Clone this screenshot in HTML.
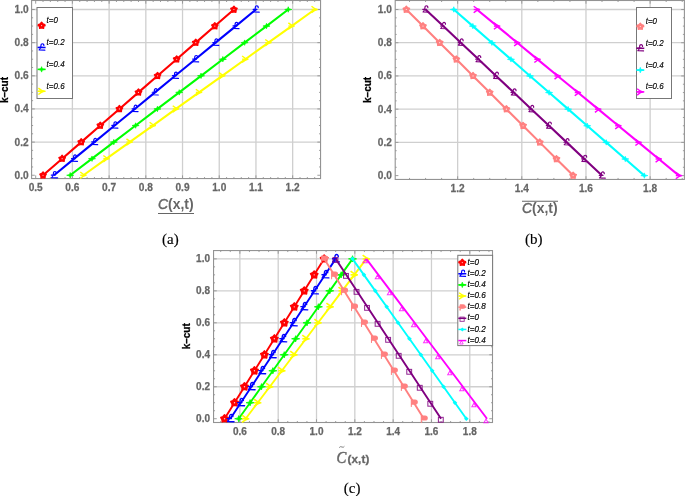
<!DOCTYPE html>
<html><head><meta charset="utf-8"><style>
html,body{margin:0;padding:0;background:#fff;}
svg{display:block;}
</style></head><body>
<svg width="685" height="496" viewBox="0 0 685 496">
<rect width="685" height="496" fill="#fff"/>
<line x1="72.40" y1="0.5" x2="72.40" y2="178.55" stroke="#cfcfcf" stroke-width="1.3"/>
<line x1="109.11" y1="0.5" x2="109.11" y2="178.55" stroke="#cfcfcf" stroke-width="1.3"/>
<line x1="145.82" y1="0.5" x2="145.82" y2="178.55" stroke="#cfcfcf" stroke-width="1.3"/>
<line x1="182.53" y1="0.5" x2="182.53" y2="178.55" stroke="#cfcfcf" stroke-width="1.3"/>
<line x1="219.24" y1="0.5" x2="219.24" y2="178.55" stroke="#cfcfcf" stroke-width="1.3"/>
<line x1="255.95" y1="0.5" x2="255.95" y2="178.55" stroke="#cfcfcf" stroke-width="1.3"/>
<line x1="292.66" y1="0.5" x2="292.66" y2="178.55" stroke="#cfcfcf" stroke-width="1.3"/>
<line x1="31.6" y1="142.10" x2="320.55" y2="142.10" stroke="#cfcfcf" stroke-width="1.3"/>
<line x1="31.6" y1="108.95" x2="320.55" y2="108.95" stroke="#cfcfcf" stroke-width="1.3"/>
<line x1="31.6" y1="75.80" x2="320.55" y2="75.80" stroke="#cfcfcf" stroke-width="1.3"/>
<line x1="31.6" y1="42.65" x2="320.55" y2="42.65" stroke="#cfcfcf" stroke-width="1.3"/>
<line x1="31.6" y1="9.50" x2="320.55" y2="9.50" stroke="#cfcfcf" stroke-width="1.3"/>
<rect x="31.6" y="0.5" width="288.95" height="178.05" fill="none" stroke="#939393" stroke-width="1.1"/>
<line x1="35.69" y1="178.55" x2="35.69" y2="175.35000000000002" stroke="#939393" stroke-width="0.9"/>
<line x1="35.69" y1="0.5" x2="35.69" y2="3.7" stroke="#939393" stroke-width="0.9"/>
<line x1="72.40" y1="178.55" x2="72.40" y2="175.35000000000002" stroke="#939393" stroke-width="0.9"/>
<line x1="72.40" y1="0.5" x2="72.40" y2="3.7" stroke="#939393" stroke-width="0.9"/>
<line x1="109.11" y1="178.55" x2="109.11" y2="175.35000000000002" stroke="#939393" stroke-width="0.9"/>
<line x1="109.11" y1="0.5" x2="109.11" y2="3.7" stroke="#939393" stroke-width="0.9"/>
<line x1="145.82" y1="178.55" x2="145.82" y2="175.35000000000002" stroke="#939393" stroke-width="0.9"/>
<line x1="145.82" y1="0.5" x2="145.82" y2="3.7" stroke="#939393" stroke-width="0.9"/>
<line x1="182.53" y1="178.55" x2="182.53" y2="175.35000000000002" stroke="#939393" stroke-width="0.9"/>
<line x1="182.53" y1="0.5" x2="182.53" y2="3.7" stroke="#939393" stroke-width="0.9"/>
<line x1="219.24" y1="178.55" x2="219.24" y2="175.35000000000002" stroke="#939393" stroke-width="0.9"/>
<line x1="219.24" y1="0.5" x2="219.24" y2="3.7" stroke="#939393" stroke-width="0.9"/>
<line x1="255.95" y1="178.55" x2="255.95" y2="175.35000000000002" stroke="#939393" stroke-width="0.9"/>
<line x1="255.95" y1="0.5" x2="255.95" y2="3.7" stroke="#939393" stroke-width="0.9"/>
<line x1="292.66" y1="178.55" x2="292.66" y2="175.35000000000002" stroke="#939393" stroke-width="0.9"/>
<line x1="292.66" y1="0.5" x2="292.66" y2="3.7" stroke="#939393" stroke-width="0.9"/>
<line x1="43.03" y1="178.55" x2="43.03" y2="177.05" stroke="#939393" stroke-width="0.9"/>
<line x1="43.03" y1="0.5" x2="43.03" y2="2.0" stroke="#939393" stroke-width="0.9"/>
<line x1="50.37" y1="178.55" x2="50.37" y2="177.05" stroke="#939393" stroke-width="0.9"/>
<line x1="50.37" y1="0.5" x2="50.37" y2="2.0" stroke="#939393" stroke-width="0.9"/>
<line x1="57.72" y1="178.55" x2="57.72" y2="177.05" stroke="#939393" stroke-width="0.9"/>
<line x1="57.72" y1="0.5" x2="57.72" y2="2.0" stroke="#939393" stroke-width="0.9"/>
<line x1="65.06" y1="178.55" x2="65.06" y2="177.05" stroke="#939393" stroke-width="0.9"/>
<line x1="65.06" y1="0.5" x2="65.06" y2="2.0" stroke="#939393" stroke-width="0.9"/>
<line x1="79.74" y1="178.55" x2="79.74" y2="177.05" stroke="#939393" stroke-width="0.9"/>
<line x1="79.74" y1="0.5" x2="79.74" y2="2.0" stroke="#939393" stroke-width="0.9"/>
<line x1="87.08" y1="178.55" x2="87.08" y2="177.05" stroke="#939393" stroke-width="0.9"/>
<line x1="87.08" y1="0.5" x2="87.08" y2="2.0" stroke="#939393" stroke-width="0.9"/>
<line x1="94.43" y1="178.55" x2="94.43" y2="177.05" stroke="#939393" stroke-width="0.9"/>
<line x1="94.43" y1="0.5" x2="94.43" y2="2.0" stroke="#939393" stroke-width="0.9"/>
<line x1="101.77" y1="178.55" x2="101.77" y2="177.05" stroke="#939393" stroke-width="0.9"/>
<line x1="101.77" y1="0.5" x2="101.77" y2="2.0" stroke="#939393" stroke-width="0.9"/>
<line x1="116.45" y1="178.55" x2="116.45" y2="177.05" stroke="#939393" stroke-width="0.9"/>
<line x1="116.45" y1="0.5" x2="116.45" y2="2.0" stroke="#939393" stroke-width="0.9"/>
<line x1="123.79" y1="178.55" x2="123.79" y2="177.05" stroke="#939393" stroke-width="0.9"/>
<line x1="123.79" y1="0.5" x2="123.79" y2="2.0" stroke="#939393" stroke-width="0.9"/>
<line x1="131.14" y1="178.55" x2="131.14" y2="177.05" stroke="#939393" stroke-width="0.9"/>
<line x1="131.14" y1="0.5" x2="131.14" y2="2.0" stroke="#939393" stroke-width="0.9"/>
<line x1="138.48" y1="178.55" x2="138.48" y2="177.05" stroke="#939393" stroke-width="0.9"/>
<line x1="138.48" y1="0.5" x2="138.48" y2="2.0" stroke="#939393" stroke-width="0.9"/>
<line x1="153.16" y1="178.55" x2="153.16" y2="177.05" stroke="#939393" stroke-width="0.9"/>
<line x1="153.16" y1="0.5" x2="153.16" y2="2.0" stroke="#939393" stroke-width="0.9"/>
<line x1="160.50" y1="178.55" x2="160.50" y2="177.05" stroke="#939393" stroke-width="0.9"/>
<line x1="160.50" y1="0.5" x2="160.50" y2="2.0" stroke="#939393" stroke-width="0.9"/>
<line x1="167.85" y1="178.55" x2="167.85" y2="177.05" stroke="#939393" stroke-width="0.9"/>
<line x1="167.85" y1="0.5" x2="167.85" y2="2.0" stroke="#939393" stroke-width="0.9"/>
<line x1="175.19" y1="178.55" x2="175.19" y2="177.05" stroke="#939393" stroke-width="0.9"/>
<line x1="175.19" y1="0.5" x2="175.19" y2="2.0" stroke="#939393" stroke-width="0.9"/>
<line x1="189.87" y1="178.55" x2="189.87" y2="177.05" stroke="#939393" stroke-width="0.9"/>
<line x1="189.87" y1="0.5" x2="189.87" y2="2.0" stroke="#939393" stroke-width="0.9"/>
<line x1="197.21" y1="178.55" x2="197.21" y2="177.05" stroke="#939393" stroke-width="0.9"/>
<line x1="197.21" y1="0.5" x2="197.21" y2="2.0" stroke="#939393" stroke-width="0.9"/>
<line x1="204.56" y1="178.55" x2="204.56" y2="177.05" stroke="#939393" stroke-width="0.9"/>
<line x1="204.56" y1="0.5" x2="204.56" y2="2.0" stroke="#939393" stroke-width="0.9"/>
<line x1="211.90" y1="178.55" x2="211.90" y2="177.05" stroke="#939393" stroke-width="0.9"/>
<line x1="211.90" y1="0.5" x2="211.90" y2="2.0" stroke="#939393" stroke-width="0.9"/>
<line x1="226.58" y1="178.55" x2="226.58" y2="177.05" stroke="#939393" stroke-width="0.9"/>
<line x1="226.58" y1="0.5" x2="226.58" y2="2.0" stroke="#939393" stroke-width="0.9"/>
<line x1="233.92" y1="178.55" x2="233.92" y2="177.05" stroke="#939393" stroke-width="0.9"/>
<line x1="233.92" y1="0.5" x2="233.92" y2="2.0" stroke="#939393" stroke-width="0.9"/>
<line x1="241.27" y1="178.55" x2="241.27" y2="177.05" stroke="#939393" stroke-width="0.9"/>
<line x1="241.27" y1="0.5" x2="241.27" y2="2.0" stroke="#939393" stroke-width="0.9"/>
<line x1="248.61" y1="178.55" x2="248.61" y2="177.05" stroke="#939393" stroke-width="0.9"/>
<line x1="248.61" y1="0.5" x2="248.61" y2="2.0" stroke="#939393" stroke-width="0.9"/>
<line x1="263.29" y1="178.55" x2="263.29" y2="177.05" stroke="#939393" stroke-width="0.9"/>
<line x1="263.29" y1="0.5" x2="263.29" y2="2.0" stroke="#939393" stroke-width="0.9"/>
<line x1="270.63" y1="178.55" x2="270.63" y2="177.05" stroke="#939393" stroke-width="0.9"/>
<line x1="270.63" y1="0.5" x2="270.63" y2="2.0" stroke="#939393" stroke-width="0.9"/>
<line x1="277.98" y1="178.55" x2="277.98" y2="177.05" stroke="#939393" stroke-width="0.9"/>
<line x1="277.98" y1="0.5" x2="277.98" y2="2.0" stroke="#939393" stroke-width="0.9"/>
<line x1="285.32" y1="178.55" x2="285.32" y2="177.05" stroke="#939393" stroke-width="0.9"/>
<line x1="285.32" y1="0.5" x2="285.32" y2="2.0" stroke="#939393" stroke-width="0.9"/>
<line x1="300.00" y1="178.55" x2="300.00" y2="177.05" stroke="#939393" stroke-width="0.9"/>
<line x1="300.00" y1="0.5" x2="300.00" y2="2.0" stroke="#939393" stroke-width="0.9"/>
<line x1="307.34" y1="178.55" x2="307.34" y2="177.05" stroke="#939393" stroke-width="0.9"/>
<line x1="307.34" y1="0.5" x2="307.34" y2="2.0" stroke="#939393" stroke-width="0.9"/>
<line x1="314.69" y1="178.55" x2="314.69" y2="177.05" stroke="#939393" stroke-width="0.9"/>
<line x1="314.69" y1="0.5" x2="314.69" y2="2.0" stroke="#939393" stroke-width="0.9"/>
<line x1="31.6" y1="175.25" x2="34.800000000000004" y2="175.25" stroke="#939393" stroke-width="0.9"/>
<line x1="320.55" y1="175.25" x2="317.35" y2="175.25" stroke="#939393" stroke-width="0.9"/>
<line x1="31.6" y1="142.10" x2="34.800000000000004" y2="142.10" stroke="#939393" stroke-width="0.9"/>
<line x1="320.55" y1="142.10" x2="317.35" y2="142.10" stroke="#939393" stroke-width="0.9"/>
<line x1="31.6" y1="108.95" x2="34.800000000000004" y2="108.95" stroke="#939393" stroke-width="0.9"/>
<line x1="320.55" y1="108.95" x2="317.35" y2="108.95" stroke="#939393" stroke-width="0.9"/>
<line x1="31.6" y1="75.80" x2="34.800000000000004" y2="75.80" stroke="#939393" stroke-width="0.9"/>
<line x1="320.55" y1="75.80" x2="317.35" y2="75.80" stroke="#939393" stroke-width="0.9"/>
<line x1="31.6" y1="42.65" x2="34.800000000000004" y2="42.65" stroke="#939393" stroke-width="0.9"/>
<line x1="320.55" y1="42.65" x2="317.35" y2="42.65" stroke="#939393" stroke-width="0.9"/>
<line x1="31.6" y1="9.50" x2="34.800000000000004" y2="9.50" stroke="#939393" stroke-width="0.9"/>
<line x1="320.55" y1="9.50" x2="317.35" y2="9.50" stroke="#939393" stroke-width="0.9"/>
<line x1="31.6" y1="166.96" x2="33.1" y2="166.96" stroke="#939393" stroke-width="0.9"/>
<line x1="320.55" y1="166.96" x2="319.05" y2="166.96" stroke="#939393" stroke-width="0.9"/>
<line x1="31.6" y1="158.68" x2="33.1" y2="158.68" stroke="#939393" stroke-width="0.9"/>
<line x1="320.55" y1="158.68" x2="319.05" y2="158.68" stroke="#939393" stroke-width="0.9"/>
<line x1="31.6" y1="150.39" x2="33.1" y2="150.39" stroke="#939393" stroke-width="0.9"/>
<line x1="320.55" y1="150.39" x2="319.05" y2="150.39" stroke="#939393" stroke-width="0.9"/>
<line x1="31.6" y1="133.81" x2="33.1" y2="133.81" stroke="#939393" stroke-width="0.9"/>
<line x1="320.55" y1="133.81" x2="319.05" y2="133.81" stroke="#939393" stroke-width="0.9"/>
<line x1="31.6" y1="125.53" x2="33.1" y2="125.53" stroke="#939393" stroke-width="0.9"/>
<line x1="320.55" y1="125.53" x2="319.05" y2="125.53" stroke="#939393" stroke-width="0.9"/>
<line x1="31.6" y1="117.24" x2="33.1" y2="117.24" stroke="#939393" stroke-width="0.9"/>
<line x1="320.55" y1="117.24" x2="319.05" y2="117.24" stroke="#939393" stroke-width="0.9"/>
<line x1="31.6" y1="100.66" x2="33.1" y2="100.66" stroke="#939393" stroke-width="0.9"/>
<line x1="320.55" y1="100.66" x2="319.05" y2="100.66" stroke="#939393" stroke-width="0.9"/>
<line x1="31.6" y1="92.38" x2="33.1" y2="92.38" stroke="#939393" stroke-width="0.9"/>
<line x1="320.55" y1="92.38" x2="319.05" y2="92.38" stroke="#939393" stroke-width="0.9"/>
<line x1="31.6" y1="84.09" x2="33.1" y2="84.09" stroke="#939393" stroke-width="0.9"/>
<line x1="320.55" y1="84.09" x2="319.05" y2="84.09" stroke="#939393" stroke-width="0.9"/>
<line x1="31.6" y1="67.51" x2="33.1" y2="67.51" stroke="#939393" stroke-width="0.9"/>
<line x1="320.55" y1="67.51" x2="319.05" y2="67.51" stroke="#939393" stroke-width="0.9"/>
<line x1="31.6" y1="59.23" x2="33.1" y2="59.23" stroke="#939393" stroke-width="0.9"/>
<line x1="320.55" y1="59.23" x2="319.05" y2="59.23" stroke="#939393" stroke-width="0.9"/>
<line x1="31.6" y1="50.94" x2="33.1" y2="50.94" stroke="#939393" stroke-width="0.9"/>
<line x1="320.55" y1="50.94" x2="319.05" y2="50.94" stroke="#939393" stroke-width="0.9"/>
<line x1="31.6" y1="34.36" x2="33.1" y2="34.36" stroke="#939393" stroke-width="0.9"/>
<line x1="320.55" y1="34.36" x2="319.05" y2="34.36" stroke="#939393" stroke-width="0.9"/>
<line x1="31.6" y1="26.07" x2="33.1" y2="26.07" stroke="#939393" stroke-width="0.9"/>
<line x1="320.55" y1="26.07" x2="319.05" y2="26.07" stroke="#939393" stroke-width="0.9"/>
<line x1="31.6" y1="17.79" x2="33.1" y2="17.79" stroke="#939393" stroke-width="0.9"/>
<line x1="320.55" y1="17.79" x2="319.05" y2="17.79" stroke="#939393" stroke-width="0.9"/>
<text transform="translate(35.69,190.7) scale(0.89,1)" font-family="Liberation Sans, Arial, sans-serif" font-weight="bold" font-size="11.4" fill="#666" stroke="#666" stroke-width="0.25" text-anchor="middle">0.5</text>
<text transform="translate(72.40,190.7) scale(0.89,1)" font-family="Liberation Sans, Arial, sans-serif" font-weight="bold" font-size="11.4" fill="#666" stroke="#666" stroke-width="0.25" text-anchor="middle">0.6</text>
<text transform="translate(109.11,190.7) scale(0.89,1)" font-family="Liberation Sans, Arial, sans-serif" font-weight="bold" font-size="11.4" fill="#666" stroke="#666" stroke-width="0.25" text-anchor="middle">0.7</text>
<text transform="translate(145.82,190.7) scale(0.89,1)" font-family="Liberation Sans, Arial, sans-serif" font-weight="bold" font-size="11.4" fill="#666" stroke="#666" stroke-width="0.25" text-anchor="middle">0.8</text>
<text transform="translate(182.53,190.7) scale(0.89,1)" font-family="Liberation Sans, Arial, sans-serif" font-weight="bold" font-size="11.4" fill="#666" stroke="#666" stroke-width="0.25" text-anchor="middle">0.9</text>
<text transform="translate(219.24,190.7) scale(0.89,1)" font-family="Liberation Sans, Arial, sans-serif" font-weight="bold" font-size="11.4" fill="#666" stroke="#666" stroke-width="0.25" text-anchor="middle">1.0</text>
<text transform="translate(255.95,190.7) scale(0.89,1)" font-family="Liberation Sans, Arial, sans-serif" font-weight="bold" font-size="11.4" fill="#666" stroke="#666" stroke-width="0.25" text-anchor="middle">1.1</text>
<text transform="translate(292.66,190.7) scale(0.89,1)" font-family="Liberation Sans, Arial, sans-serif" font-weight="bold" font-size="11.4" fill="#666" stroke="#666" stroke-width="0.25" text-anchor="middle">1.2</text>
<text transform="translate(28.6,178.70) scale(0.89,1)" font-family="Liberation Sans, Arial, sans-serif" font-weight="bold" font-size="11.4" fill="#666" stroke="#666" stroke-width="0.25" text-anchor="end">0.0</text>
<text transform="translate(28.6,145.55) scale(0.89,1)" font-family="Liberation Sans, Arial, sans-serif" font-weight="bold" font-size="11.4" fill="#666" stroke="#666" stroke-width="0.25" text-anchor="end">0.2</text>
<text transform="translate(28.6,112.40) scale(0.89,1)" font-family="Liberation Sans, Arial, sans-serif" font-weight="bold" font-size="11.4" fill="#666" stroke="#666" stroke-width="0.25" text-anchor="end">0.4</text>
<text transform="translate(28.6,79.25) scale(0.89,1)" font-family="Liberation Sans, Arial, sans-serif" font-weight="bold" font-size="11.4" fill="#666" stroke="#666" stroke-width="0.25" text-anchor="end">0.6</text>
<text transform="translate(28.6,46.10) scale(0.89,1)" font-family="Liberation Sans, Arial, sans-serif" font-weight="bold" font-size="11.4" fill="#666" stroke="#666" stroke-width="0.25" text-anchor="end">0.8</text>
<text transform="translate(28.6,12.95) scale(0.89,1)" font-family="Liberation Sans, Arial, sans-serif" font-weight="bold" font-size="11.4" fill="#666" stroke="#666" stroke-width="0.25" text-anchor="end">1.0</text>
<polyline points="43.03,175.25 62.12,158.68 81.21,142.10 100.30,125.53 119.39,108.95 138.48,92.38 157.57,75.80 176.66,59.23 195.75,42.65 214.83,26.07 233.92,9.50" fill="none" stroke="#ff0000" stroke-width="2.1" stroke-linejoin="round"/>
<polygon points="43.03,171.85 44.38,173.39 46.27,174.20 45.22,175.96 45.03,178.00 43.03,177.55 41.03,178.00 40.84,175.96 39.80,174.20 41.68,173.39" fill="#ff0000" stroke="#ff0000" stroke-width="1.3" stroke-linejoin="round"/><circle cx="43.03" cy="175.25" r="0.6" fill="#fff" fill-opacity="0.8"/>
<polygon points="62.12,155.28 63.47,156.81 65.35,157.62 64.31,159.39 64.12,161.43 62.12,160.98 60.12,161.43 59.93,159.39 58.89,157.62 60.77,156.81" fill="#ff0000" stroke="#ff0000" stroke-width="1.3" stroke-linejoin="round"/><circle cx="62.12" cy="158.68" r="0.6" fill="#fff" fill-opacity="0.8"/>
<polygon points="81.21,138.70 82.56,140.24 84.44,141.05 83.40,142.81 83.21,144.85 81.21,144.40 79.21,144.85 79.02,142.81 77.98,141.05 79.86,140.24" fill="#ff0000" stroke="#ff0000" stroke-width="1.3" stroke-linejoin="round"/><circle cx="81.21" cy="142.10" r="0.6" fill="#fff" fill-opacity="0.8"/>
<polygon points="100.30,122.12 101.65,123.66 103.53,124.47 102.49,126.24 102.30,128.28 100.30,127.83 98.30,128.28 98.11,126.24 97.07,124.47 98.95,123.66" fill="#ff0000" stroke="#ff0000" stroke-width="1.3" stroke-linejoin="round"/><circle cx="100.30" cy="125.53" r="0.6" fill="#fff" fill-opacity="0.8"/>
<polygon points="119.39,105.55 120.74,107.09 122.62,107.90 121.58,109.66 121.39,111.70 119.39,111.25 117.39,111.70 117.20,109.66 116.16,107.90 118.04,107.09" fill="#ff0000" stroke="#ff0000" stroke-width="1.3" stroke-linejoin="round"/><circle cx="119.39" cy="108.95" r="0.6" fill="#fff" fill-opacity="0.8"/>
<polygon points="138.48,88.97 139.83,90.51 141.71,91.32 140.67,93.09 140.48,95.13 138.48,94.67 136.48,95.13 136.29,93.09 135.24,91.32 137.13,90.51" fill="#ff0000" stroke="#ff0000" stroke-width="1.3" stroke-linejoin="round"/><circle cx="138.48" cy="92.38" r="0.6" fill="#fff" fill-opacity="0.8"/>
<polygon points="157.57,72.40 158.92,73.94 160.80,74.75 159.75,76.51 159.57,78.55 157.57,78.10 155.57,78.55 155.38,76.51 154.33,74.75 156.22,73.94" fill="#ff0000" stroke="#ff0000" stroke-width="1.3" stroke-linejoin="round"/><circle cx="157.57" cy="75.80" r="0.6" fill="#fff" fill-opacity="0.8"/>
<polygon points="176.66,55.83 178.01,57.36 179.89,58.17 178.84,59.94 178.65,61.98 176.66,61.53 174.66,61.98 174.47,59.94 173.42,58.17 175.30,57.36" fill="#ff0000" stroke="#ff0000" stroke-width="1.3" stroke-linejoin="round"/><circle cx="176.66" cy="59.23" r="0.6" fill="#fff" fill-opacity="0.8"/>
<polygon points="195.75,39.25 197.10,40.79 198.98,41.60 197.93,43.36 197.74,45.40 195.75,44.95 193.75,45.40 193.56,43.36 192.51,41.60 194.39,40.79" fill="#ff0000" stroke="#ff0000" stroke-width="1.3" stroke-linejoin="round"/><circle cx="195.75" cy="42.65" r="0.6" fill="#fff" fill-opacity="0.8"/>
<polygon points="214.83,22.67 216.19,24.21 218.07,25.02 217.02,26.79 216.83,28.83 214.83,28.37 212.84,28.83 212.65,26.79 211.60,25.02 213.48,24.21" fill="#ff0000" stroke="#ff0000" stroke-width="1.3" stroke-linejoin="round"/><circle cx="214.83" cy="26.07" r="0.6" fill="#fff" fill-opacity="0.8"/>
<polygon points="233.92,6.10 235.28,7.64 237.16,8.45 236.11,10.21 235.92,12.25 233.92,11.80 231.93,12.25 231.74,10.21 230.69,8.45 232.57,7.64" fill="#ff0000" stroke="#ff0000" stroke-width="1.3" stroke-linejoin="round"/><circle cx="233.92" cy="9.50" r="0.6" fill="#fff" fill-opacity="0.8"/>
<polyline points="54.05,175.25 74.24,158.68 94.43,142.10 114.62,125.53 134.81,108.95 155.00,92.38 175.19,75.80 195.38,59.23 215.57,42.65 235.76,26.07 255.95,9.50" fill="none" stroke="#0000ff" stroke-width="2.1" stroke-linejoin="round"/>
<path d="M56.30,173.38 C56.42,171.00 53.42,170.75 53.42,173.38 C53.42,175.50 52.80,176.75 51.55,177.62 L57.30,177.88 M51.30,175.12 L55.05,175.12" fill="none" stroke="#0000ff" stroke-width="1.2" stroke-linecap="round" stroke-linejoin="round"/>
<path d="M76.49,156.80 C76.61,154.43 73.61,154.18 73.61,156.80 C73.61,158.93 72.99,160.18 71.74,161.05 L77.49,161.30 M71.49,158.55 L75.24,158.55" fill="none" stroke="#0000ff" stroke-width="1.2" stroke-linecap="round" stroke-linejoin="round"/>
<path d="M96.68,140.22 C96.80,137.85 93.80,137.60 93.80,140.22 C93.80,142.35 93.18,143.60 91.93,144.47 L97.68,144.72 M91.68,141.97 L95.43,141.97" fill="none" stroke="#0000ff" stroke-width="1.2" stroke-linecap="round" stroke-linejoin="round"/>
<path d="M116.87,123.65 C116.99,121.28 113.99,121.03 113.99,123.65 C113.99,125.78 113.37,127.03 112.12,127.90 L117.87,128.15 M111.87,125.40 L115.62,125.40" fill="none" stroke="#0000ff" stroke-width="1.2" stroke-linecap="round" stroke-linejoin="round"/>
<path d="M137.06,107.08 C137.18,104.70 134.18,104.45 134.18,107.08 C134.18,109.20 133.56,110.45 132.31,111.33 L138.06,111.58 M132.06,108.83 L135.81,108.83" fill="none" stroke="#0000ff" stroke-width="1.2" stroke-linecap="round" stroke-linejoin="round"/>
<path d="M157.25,90.50 C157.37,88.12 154.37,87.88 154.37,90.50 C154.37,92.62 153.75,93.88 152.50,94.75 L158.25,95.00 M152.25,92.25 L156.00,92.25" fill="none" stroke="#0000ff" stroke-width="1.2" stroke-linecap="round" stroke-linejoin="round"/>
<path d="M177.44,73.92 C177.56,71.55 174.56,71.30 174.56,73.92 C174.56,76.05 173.94,77.30 172.69,78.17 L178.44,78.42 M172.44,75.67 L176.19,75.67" fill="none" stroke="#0000ff" stroke-width="1.2" stroke-linecap="round" stroke-linejoin="round"/>
<path d="M197.63,57.35 C197.75,54.98 194.75,54.73 194.75,57.35 C194.75,59.48 194.13,60.73 192.88,61.60 L198.63,61.85 M192.63,59.10 L196.38,59.10" fill="none" stroke="#0000ff" stroke-width="1.2" stroke-linecap="round" stroke-linejoin="round"/>
<path d="M217.82,40.78 C217.94,38.40 214.94,38.15 214.94,40.78 C214.94,42.90 214.32,44.15 213.07,45.03 L218.82,45.28 M212.82,42.53 L216.57,42.53" fill="none" stroke="#0000ff" stroke-width="1.2" stroke-linecap="round" stroke-linejoin="round"/>
<path d="M238.01,24.20 C238.13,21.82 235.13,21.57 235.13,24.20 C235.13,26.32 234.51,27.57 233.26,28.45 L239.01,28.70 M233.01,25.95 L236.76,25.95" fill="none" stroke="#0000ff" stroke-width="1.2" stroke-linecap="round" stroke-linejoin="round"/>
<path d="M258.20,7.62 C258.33,5.25 255.33,5.00 255.33,7.62 C255.33,9.75 254.70,11.00 253.45,11.88 L259.20,12.12 M253.20,9.38 L256.95,9.38" fill="none" stroke="#0000ff" stroke-width="1.2" stroke-linecap="round" stroke-linejoin="round"/>
<polyline points="70.20,175.25 92.00,158.68 113.81,142.10 135.61,125.53 157.42,108.95 179.23,92.38 201.03,75.80 222.84,59.23 244.64,42.65 266.45,26.07 288.25,9.50" fill="none" stroke="#00ff00" stroke-width="2.1" stroke-linejoin="round"/>
<polygon points="70.20,172.53 70.90,174.54 73.72,175.25 70.90,175.96 70.20,177.97 69.49,175.96 66.68,175.25 69.49,174.54" fill="#00ff00" stroke="#00ff00" stroke-width="0.7" stroke-linejoin="round"/>
<polygon points="92.00,155.96 92.71,157.97 95.52,158.68 92.71,159.38 92.00,161.40 91.30,159.38 88.48,158.68 91.30,157.97" fill="#00ff00" stroke="#00ff00" stroke-width="0.7" stroke-linejoin="round"/>
<polygon points="113.81,139.38 114.52,141.39 117.33,142.10 114.52,142.81 113.81,144.82 113.10,142.81 110.29,142.10 113.10,141.39" fill="#00ff00" stroke="#00ff00" stroke-width="0.7" stroke-linejoin="round"/>
<polygon points="135.61,122.81 136.32,124.82 139.13,125.53 136.32,126.23 135.61,128.25 134.91,126.23 132.09,125.53 134.91,124.82" fill="#00ff00" stroke="#00ff00" stroke-width="0.7" stroke-linejoin="round"/>
<polygon points="157.42,106.23 158.13,108.24 160.94,108.95 158.13,109.66 157.42,111.67 156.71,109.66 153.90,108.95 156.71,108.24" fill="#00ff00" stroke="#00ff00" stroke-width="0.7" stroke-linejoin="round"/>
<polygon points="179.23,89.66 179.93,91.67 182.75,92.38 179.93,93.08 179.23,95.09 178.52,93.08 175.71,92.38 178.52,91.67" fill="#00ff00" stroke="#00ff00" stroke-width="0.7" stroke-linejoin="round"/>
<polygon points="201.03,73.08 201.74,75.09 204.55,75.80 201.74,76.51 201.03,78.52 200.32,76.51 197.51,75.80 200.32,75.09" fill="#00ff00" stroke="#00ff00" stroke-width="0.7" stroke-linejoin="round"/>
<polygon points="222.84,56.51 223.54,58.52 226.36,59.23 223.54,59.93 222.84,61.95 222.13,59.93 219.32,59.23 222.13,58.52" fill="#00ff00" stroke="#00ff00" stroke-width="0.7" stroke-linejoin="round"/>
<polygon points="244.64,39.93 245.35,41.94 248.16,42.65 245.35,43.36 244.64,45.37 243.94,43.36 241.12,42.65 243.94,41.94" fill="#00ff00" stroke="#00ff00" stroke-width="0.7" stroke-linejoin="round"/>
<polygon points="266.45,23.35 267.16,25.37 269.97,26.07 267.16,26.78 266.45,28.79 265.74,26.78 262.93,26.07 265.74,25.37" fill="#00ff00" stroke="#00ff00" stroke-width="0.7" stroke-linejoin="round"/>
<polygon points="288.25,6.78 288.96,8.79 291.77,9.50 288.96,10.21 288.25,12.22 287.55,10.21 284.73,9.50 287.55,8.79" fill="#00ff00" stroke="#00ff00" stroke-width="0.7" stroke-linejoin="round"/>
<polyline points="83.41,175.25 106.54,158.68 129.67,142.10 152.79,125.53 175.92,108.95 199.05,92.38 222.18,75.80 245.30,59.23 268.43,42.65 291.56,26.07 314.69,9.50" fill="none" stroke="#ffff00" stroke-width="2.1" stroke-linejoin="round"/>
<path d="M80.21,172.05 Q83.41,174.75 85.65,175.25 Q83.41,175.75 80.21,178.45" fill="none" stroke="#ffff00" stroke-width="1.4"/><line x1="80.21" y1="175.25" x2="86.61" y2="175.25" stroke="#ffff00" stroke-width="1.4"/>
<path d="M103.34,155.48 Q106.54,158.18 108.78,158.68 Q106.54,159.18 103.34,161.88" fill="none" stroke="#ffff00" stroke-width="1.4"/><line x1="103.34" y1="158.68" x2="109.74" y2="158.68" stroke="#ffff00" stroke-width="1.4"/>
<path d="M126.47,138.90 Q129.67,141.60 131.91,142.10 Q129.67,142.60 126.47,145.30" fill="none" stroke="#ffff00" stroke-width="1.4"/><line x1="126.47" y1="142.10" x2="132.87" y2="142.10" stroke="#ffff00" stroke-width="1.4"/>
<path d="M149.59,122.33 Q152.79,125.03 155.03,125.53 Q152.79,126.03 149.59,128.72" fill="none" stroke="#ffff00" stroke-width="1.4"/><line x1="149.59" y1="125.53" x2="155.99" y2="125.53" stroke="#ffff00" stroke-width="1.4"/>
<path d="M172.72,105.75 Q175.92,108.45 178.16,108.95 Q175.92,109.45 172.72,112.15" fill="none" stroke="#ffff00" stroke-width="1.4"/><line x1="172.72" y1="108.95" x2="179.12" y2="108.95" stroke="#ffff00" stroke-width="1.4"/>
<path d="M195.85,89.17 Q199.05,91.88 201.29,92.38 Q199.05,92.88 195.85,95.58" fill="none" stroke="#ffff00" stroke-width="1.4"/><line x1="195.85" y1="92.38" x2="202.25" y2="92.38" stroke="#ffff00" stroke-width="1.4"/>
<path d="M218.98,72.60 Q222.18,75.30 224.42,75.80 Q222.18,76.30 218.98,79.00" fill="none" stroke="#ffff00" stroke-width="1.4"/><line x1="218.98" y1="75.80" x2="225.38" y2="75.80" stroke="#ffff00" stroke-width="1.4"/>
<path d="M242.10,56.03 Q245.30,58.73 247.54,59.23 Q245.30,59.73 242.10,62.43" fill="none" stroke="#ffff00" stroke-width="1.4"/><line x1="242.10" y1="59.23" x2="248.50" y2="59.23" stroke="#ffff00" stroke-width="1.4"/>
<path d="M265.23,39.45 Q268.43,42.15 270.67,42.65 Q268.43,43.15 265.23,45.85" fill="none" stroke="#ffff00" stroke-width="1.4"/><line x1="265.23" y1="42.65" x2="271.63" y2="42.65" stroke="#ffff00" stroke-width="1.4"/>
<path d="M288.36,22.87 Q291.56,25.57 293.80,26.07 Q291.56,26.57 288.36,29.27" fill="none" stroke="#ffff00" stroke-width="1.4"/><line x1="288.36" y1="26.07" x2="294.76" y2="26.07" stroke="#ffff00" stroke-width="1.4"/>
<path d="M311.49,6.30 Q314.69,9.00 316.93,9.50 Q314.69,10.00 311.49,12.70" fill="none" stroke="#ffff00" stroke-width="1.4"/><line x1="311.49" y1="9.50" x2="317.89" y2="9.50" stroke="#ffff00" stroke-width="1.4"/>
<rect x="37" y="7.5" width="35.5" height="91.0" fill="#fff" stroke="#777" stroke-width="1"/>
<line x1="37.60" y1="25.60" x2="45.60" y2="25.60" stroke="#ff0000" stroke-width="1.5"/>
<polygon points="41.60,22.20 42.95,23.74 44.83,24.55 43.79,26.31 43.60,28.35 41.60,27.90 39.60,28.35 39.41,26.31 38.37,24.55 40.25,23.74" fill="#ff0000" stroke="#ff0000" stroke-width="1.3" stroke-linejoin="round"/><circle cx="41.60" cy="25.60" r="0.6" fill="#fff" fill-opacity="0.8"/>
<text transform="translate(46.6,23.10) scale(0.85,1)" font-family="Liberation Sans, Arial, sans-serif" font-style="italic" font-size="9.4" fill="#000" stroke="#000" stroke-width="0.15">t=0</text>
<line x1="37.60" y1="47.50" x2="45.60" y2="47.50" stroke="#0000ff" stroke-width="1.5"/>
<path d="M43.85,45.62 C43.98,43.25 40.98,43.00 40.98,45.62 C40.98,47.75 40.35,49.00 39.10,49.88 L44.85,50.12 M38.85,47.38 L42.60,47.38" fill="none" stroke="#0000ff" stroke-width="1.2" stroke-linecap="round" stroke-linejoin="round"/>
<text transform="translate(46.6,45.00) scale(0.85,1)" font-family="Liberation Sans, Arial, sans-serif" font-style="italic" font-size="9.4" fill="#000" stroke="#000" stroke-width="0.15">t=0.2</text>
<line x1="37.60" y1="69.40" x2="45.60" y2="69.40" stroke="#00ff00" stroke-width="1.5"/>
<polygon points="41.60,66.68 42.31,68.69 45.12,69.40 42.31,70.11 41.60,72.12 40.89,70.11 38.08,69.40 40.89,68.69" fill="#00ff00" stroke="#00ff00" stroke-width="0.7" stroke-linejoin="round"/>
<text transform="translate(46.6,66.90) scale(0.85,1)" font-family="Liberation Sans, Arial, sans-serif" font-style="italic" font-size="9.4" fill="#000" stroke="#000" stroke-width="0.15">t=0.4</text>
<line x1="37.60" y1="91.30" x2="45.60" y2="91.30" stroke="#ffff00" stroke-width="1.5"/>
<path d="M38.40,88.10 Q41.60,90.80 43.84,91.30 Q41.60,91.80 38.40,94.50" fill="none" stroke="#ffff00" stroke-width="1.4"/><line x1="38.40" y1="91.30" x2="44.80" y2="91.30" stroke="#ffff00" stroke-width="1.4"/>
<text transform="translate(46.6,88.80) scale(0.85,1)" font-family="Liberation Sans, Arial, sans-serif" font-style="italic" font-size="9.4" fill="#000" stroke="#000" stroke-width="0.15">t=0.6</text>
<text transform="translate(8.0,90.0) rotate(-90)" font-family="Liberation Sans, Arial, sans-serif" font-weight="bold" font-size="10" fill="#000" stroke="#000" stroke-width="0.25" text-anchor="middle">k–cut</text>
<line x1="457.65" y1="0.5" x2="457.65" y2="179.45" stroke="#cfcfcf" stroke-width="1.3"/>
<line x1="521.81" y1="0.5" x2="521.81" y2="179.45" stroke="#cfcfcf" stroke-width="1.3"/>
<line x1="585.97" y1="0.5" x2="585.97" y2="179.45" stroke="#cfcfcf" stroke-width="1.3"/>
<line x1="650.13" y1="0.5" x2="650.13" y2="179.45" stroke="#cfcfcf" stroke-width="1.3"/>
<line x1="395.2" y1="142.38" x2="684.4" y2="142.38" stroke="#cfcfcf" stroke-width="1.3"/>
<line x1="395.2" y1="109.16" x2="684.4" y2="109.16" stroke="#cfcfcf" stroke-width="1.3"/>
<line x1="395.2" y1="75.94" x2="684.4" y2="75.94" stroke="#cfcfcf" stroke-width="1.3"/>
<line x1="395.2" y1="42.72" x2="684.4" y2="42.72" stroke="#cfcfcf" stroke-width="1.3"/>
<line x1="395.2" y1="9.50" x2="684.4" y2="9.50" stroke="#cfcfcf" stroke-width="1.3"/>
<rect x="395.2" y="0.5" width="289.2" height="178.95" fill="none" stroke="#939393" stroke-width="1.1"/>
<line x1="457.65" y1="179.45" x2="457.65" y2="176.25" stroke="#939393" stroke-width="0.9"/>
<line x1="457.65" y1="0.5" x2="457.65" y2="3.7" stroke="#939393" stroke-width="0.9"/>
<line x1="521.81" y1="179.45" x2="521.81" y2="176.25" stroke="#939393" stroke-width="0.9"/>
<line x1="521.81" y1="0.5" x2="521.81" y2="3.7" stroke="#939393" stroke-width="0.9"/>
<line x1="585.97" y1="179.45" x2="585.97" y2="176.25" stroke="#939393" stroke-width="0.9"/>
<line x1="585.97" y1="0.5" x2="585.97" y2="3.7" stroke="#939393" stroke-width="0.9"/>
<line x1="650.13" y1="179.45" x2="650.13" y2="176.25" stroke="#939393" stroke-width="0.9"/>
<line x1="650.13" y1="0.5" x2="650.13" y2="3.7" stroke="#939393" stroke-width="0.9"/>
<line x1="409.53" y1="179.45" x2="409.53" y2="177.95" stroke="#939393" stroke-width="0.9"/>
<line x1="409.53" y1="0.5" x2="409.53" y2="2.0" stroke="#939393" stroke-width="0.9"/>
<line x1="425.57" y1="179.45" x2="425.57" y2="177.95" stroke="#939393" stroke-width="0.9"/>
<line x1="425.57" y1="0.5" x2="425.57" y2="2.0" stroke="#939393" stroke-width="0.9"/>
<line x1="441.61" y1="179.45" x2="441.61" y2="177.95" stroke="#939393" stroke-width="0.9"/>
<line x1="441.61" y1="0.5" x2="441.61" y2="2.0" stroke="#939393" stroke-width="0.9"/>
<line x1="473.69" y1="179.45" x2="473.69" y2="177.95" stroke="#939393" stroke-width="0.9"/>
<line x1="473.69" y1="0.5" x2="473.69" y2="2.0" stroke="#939393" stroke-width="0.9"/>
<line x1="489.73" y1="179.45" x2="489.73" y2="177.95" stroke="#939393" stroke-width="0.9"/>
<line x1="489.73" y1="0.5" x2="489.73" y2="2.0" stroke="#939393" stroke-width="0.9"/>
<line x1="505.77" y1="179.45" x2="505.77" y2="177.95" stroke="#939393" stroke-width="0.9"/>
<line x1="505.77" y1="0.5" x2="505.77" y2="2.0" stroke="#939393" stroke-width="0.9"/>
<line x1="537.85" y1="179.45" x2="537.85" y2="177.95" stroke="#939393" stroke-width="0.9"/>
<line x1="537.85" y1="0.5" x2="537.85" y2="2.0" stroke="#939393" stroke-width="0.9"/>
<line x1="553.89" y1="179.45" x2="553.89" y2="177.95" stroke="#939393" stroke-width="0.9"/>
<line x1="553.89" y1="0.5" x2="553.89" y2="2.0" stroke="#939393" stroke-width="0.9"/>
<line x1="569.93" y1="179.45" x2="569.93" y2="177.95" stroke="#939393" stroke-width="0.9"/>
<line x1="569.93" y1="0.5" x2="569.93" y2="2.0" stroke="#939393" stroke-width="0.9"/>
<line x1="602.01" y1="179.45" x2="602.01" y2="177.95" stroke="#939393" stroke-width="0.9"/>
<line x1="602.01" y1="0.5" x2="602.01" y2="2.0" stroke="#939393" stroke-width="0.9"/>
<line x1="618.05" y1="179.45" x2="618.05" y2="177.95" stroke="#939393" stroke-width="0.9"/>
<line x1="618.05" y1="0.5" x2="618.05" y2="2.0" stroke="#939393" stroke-width="0.9"/>
<line x1="634.09" y1="179.45" x2="634.09" y2="177.95" stroke="#939393" stroke-width="0.9"/>
<line x1="634.09" y1="0.5" x2="634.09" y2="2.0" stroke="#939393" stroke-width="0.9"/>
<line x1="666.17" y1="179.45" x2="666.17" y2="177.95" stroke="#939393" stroke-width="0.9"/>
<line x1="666.17" y1="0.5" x2="666.17" y2="2.0" stroke="#939393" stroke-width="0.9"/>
<line x1="682.21" y1="179.45" x2="682.21" y2="177.95" stroke="#939393" stroke-width="0.9"/>
<line x1="682.21" y1="0.5" x2="682.21" y2="2.0" stroke="#939393" stroke-width="0.9"/>
<line x1="395.2" y1="175.60" x2="398.4" y2="175.60" stroke="#939393" stroke-width="0.9"/>
<line x1="684.4" y1="175.60" x2="681.1999999999999" y2="175.60" stroke="#939393" stroke-width="0.9"/>
<line x1="395.2" y1="142.38" x2="398.4" y2="142.38" stroke="#939393" stroke-width="0.9"/>
<line x1="684.4" y1="142.38" x2="681.1999999999999" y2="142.38" stroke="#939393" stroke-width="0.9"/>
<line x1="395.2" y1="109.16" x2="398.4" y2="109.16" stroke="#939393" stroke-width="0.9"/>
<line x1="684.4" y1="109.16" x2="681.1999999999999" y2="109.16" stroke="#939393" stroke-width="0.9"/>
<line x1="395.2" y1="75.94" x2="398.4" y2="75.94" stroke="#939393" stroke-width="0.9"/>
<line x1="684.4" y1="75.94" x2="681.1999999999999" y2="75.94" stroke="#939393" stroke-width="0.9"/>
<line x1="395.2" y1="42.72" x2="398.4" y2="42.72" stroke="#939393" stroke-width="0.9"/>
<line x1="684.4" y1="42.72" x2="681.1999999999999" y2="42.72" stroke="#939393" stroke-width="0.9"/>
<line x1="395.2" y1="9.50" x2="398.4" y2="9.50" stroke="#939393" stroke-width="0.9"/>
<line x1="684.4" y1="9.50" x2="681.1999999999999" y2="9.50" stroke="#939393" stroke-width="0.9"/>
<line x1="395.2" y1="167.29" x2="396.7" y2="167.29" stroke="#939393" stroke-width="0.9"/>
<line x1="684.4" y1="167.29" x2="682.9" y2="167.29" stroke="#939393" stroke-width="0.9"/>
<line x1="395.2" y1="158.99" x2="396.7" y2="158.99" stroke="#939393" stroke-width="0.9"/>
<line x1="684.4" y1="158.99" x2="682.9" y2="158.99" stroke="#939393" stroke-width="0.9"/>
<line x1="395.2" y1="150.69" x2="396.7" y2="150.69" stroke="#939393" stroke-width="0.9"/>
<line x1="684.4" y1="150.69" x2="682.9" y2="150.69" stroke="#939393" stroke-width="0.9"/>
<line x1="395.2" y1="134.07" x2="396.7" y2="134.07" stroke="#939393" stroke-width="0.9"/>
<line x1="684.4" y1="134.07" x2="682.9" y2="134.07" stroke="#939393" stroke-width="0.9"/>
<line x1="395.2" y1="125.77" x2="396.7" y2="125.77" stroke="#939393" stroke-width="0.9"/>
<line x1="684.4" y1="125.77" x2="682.9" y2="125.77" stroke="#939393" stroke-width="0.9"/>
<line x1="395.2" y1="117.47" x2="396.7" y2="117.47" stroke="#939393" stroke-width="0.9"/>
<line x1="684.4" y1="117.47" x2="682.9" y2="117.47" stroke="#939393" stroke-width="0.9"/>
<line x1="395.2" y1="100.85" x2="396.7" y2="100.85" stroke="#939393" stroke-width="0.9"/>
<line x1="684.4" y1="100.85" x2="682.9" y2="100.85" stroke="#939393" stroke-width="0.9"/>
<line x1="395.2" y1="92.55" x2="396.7" y2="92.55" stroke="#939393" stroke-width="0.9"/>
<line x1="684.4" y1="92.55" x2="682.9" y2="92.55" stroke="#939393" stroke-width="0.9"/>
<line x1="395.2" y1="84.24" x2="396.7" y2="84.24" stroke="#939393" stroke-width="0.9"/>
<line x1="684.4" y1="84.24" x2="682.9" y2="84.24" stroke="#939393" stroke-width="0.9"/>
<line x1="395.2" y1="67.63" x2="396.7" y2="67.63" stroke="#939393" stroke-width="0.9"/>
<line x1="684.4" y1="67.63" x2="682.9" y2="67.63" stroke="#939393" stroke-width="0.9"/>
<line x1="395.2" y1="59.33" x2="396.7" y2="59.33" stroke="#939393" stroke-width="0.9"/>
<line x1="684.4" y1="59.33" x2="682.9" y2="59.33" stroke="#939393" stroke-width="0.9"/>
<line x1="395.2" y1="51.03" x2="396.7" y2="51.03" stroke="#939393" stroke-width="0.9"/>
<line x1="684.4" y1="51.03" x2="682.9" y2="51.03" stroke="#939393" stroke-width="0.9"/>
<line x1="395.2" y1="34.41" x2="396.7" y2="34.41" stroke="#939393" stroke-width="0.9"/>
<line x1="684.4" y1="34.41" x2="682.9" y2="34.41" stroke="#939393" stroke-width="0.9"/>
<line x1="395.2" y1="26.11" x2="396.7" y2="26.11" stroke="#939393" stroke-width="0.9"/>
<line x1="684.4" y1="26.11" x2="682.9" y2="26.11" stroke="#939393" stroke-width="0.9"/>
<line x1="395.2" y1="17.81" x2="396.7" y2="17.81" stroke="#939393" stroke-width="0.9"/>
<line x1="684.4" y1="17.81" x2="682.9" y2="17.81" stroke="#939393" stroke-width="0.9"/>
<text transform="translate(457.65,191.6) scale(0.89,1)" font-family="Liberation Sans, Arial, sans-serif" font-weight="bold" font-size="11.4" fill="#666" stroke="#666" stroke-width="0.25" text-anchor="middle">1.2</text>
<text transform="translate(521.81,191.6) scale(0.89,1)" font-family="Liberation Sans, Arial, sans-serif" font-weight="bold" font-size="11.4" fill="#666" stroke="#666" stroke-width="0.25" text-anchor="middle">1.4</text>
<text transform="translate(585.97,191.6) scale(0.89,1)" font-family="Liberation Sans, Arial, sans-serif" font-weight="bold" font-size="11.4" fill="#666" stroke="#666" stroke-width="0.25" text-anchor="middle">1.6</text>
<text transform="translate(650.13,191.6) scale(0.89,1)" font-family="Liberation Sans, Arial, sans-serif" font-weight="bold" font-size="11.4" fill="#666" stroke="#666" stroke-width="0.25" text-anchor="middle">1.8</text>
<text transform="translate(391.9,179.05) scale(0.89,1)" font-family="Liberation Sans, Arial, sans-serif" font-weight="bold" font-size="11.4" fill="#666" stroke="#666" stroke-width="0.25" text-anchor="end">0.0</text>
<text transform="translate(391.9,145.83) scale(0.89,1)" font-family="Liberation Sans, Arial, sans-serif" font-weight="bold" font-size="11.4" fill="#666" stroke="#666" stroke-width="0.25" text-anchor="end">0.2</text>
<text transform="translate(391.9,112.61) scale(0.89,1)" font-family="Liberation Sans, Arial, sans-serif" font-weight="bold" font-size="11.4" fill="#666" stroke="#666" stroke-width="0.25" text-anchor="end">0.4</text>
<text transform="translate(391.9,79.39) scale(0.89,1)" font-family="Liberation Sans, Arial, sans-serif" font-weight="bold" font-size="11.4" fill="#666" stroke="#666" stroke-width="0.25" text-anchor="end">0.6</text>
<text transform="translate(391.9,46.17) scale(0.89,1)" font-family="Liberation Sans, Arial, sans-serif" font-weight="bold" font-size="11.4" fill="#666" stroke="#666" stroke-width="0.25" text-anchor="end">0.8</text>
<text transform="translate(391.9,12.95) scale(0.89,1)" font-family="Liberation Sans, Arial, sans-serif" font-weight="bold" font-size="11.4" fill="#666" stroke="#666" stroke-width="0.25" text-anchor="end">1.0</text>
<polyline points="573.14,175.60 556.46,158.99 539.77,142.38 523.09,125.77 506.41,109.16 489.73,92.55 473.05,75.94 456.37,59.33 439.69,42.72 423.00,26.11 406.32,9.50" fill="none" stroke="#ff8080" stroke-width="2.1" stroke-linejoin="round"/>
<polygon points="573.14,172.20 574.49,173.74 576.37,174.55 575.33,176.31 575.14,178.35 573.14,177.90 571.14,178.35 570.95,176.31 569.90,174.55 571.79,173.74" fill="#ff8080" stroke="#ff8080" stroke-width="1.3" stroke-linejoin="round"/><circle cx="573.14" cy="175.60" r="0.6" fill="#fff" fill-opacity="0.8"/>
<polygon points="556.46,155.59 557.81,157.13 559.69,157.94 558.64,159.70 558.45,161.74 556.46,161.29 554.46,161.74 554.27,159.70 553.22,157.94 555.10,157.13" fill="#ff8080" stroke="#ff8080" stroke-width="1.3" stroke-linejoin="round"/><circle cx="556.46" cy="158.99" r="0.6" fill="#fff" fill-opacity="0.8"/>
<polygon points="539.77,138.98 541.13,140.52 543.01,141.33 541.96,143.09 541.77,145.13 539.77,144.68 537.78,145.13 537.59,143.09 536.54,141.33 538.42,140.52" fill="#ff8080" stroke="#ff8080" stroke-width="1.3" stroke-linejoin="round"/><circle cx="539.77" cy="142.38" r="0.6" fill="#fff" fill-opacity="0.8"/>
<polygon points="523.09,122.37 524.45,123.91 526.33,124.72 525.28,126.48 525.09,128.52 523.09,128.07 521.09,128.52 520.91,126.48 519.86,124.72 521.74,123.91" fill="#ff8080" stroke="#ff8080" stroke-width="1.3" stroke-linejoin="round"/><circle cx="523.09" cy="125.77" r="0.6" fill="#fff" fill-opacity="0.8"/>
<polygon points="506.41,105.76 507.76,107.30 509.65,108.11 508.60,109.87 508.41,111.91 506.41,111.46 504.41,111.91 504.22,109.87 503.18,108.11 505.06,107.30" fill="#ff8080" stroke="#ff8080" stroke-width="1.3" stroke-linejoin="round"/><circle cx="506.41" cy="109.16" r="0.6" fill="#fff" fill-opacity="0.8"/>
<polygon points="489.73,89.15 491.08,90.69 492.96,91.50 491.92,93.26 491.73,95.30 489.73,94.85 487.73,95.30 487.54,93.26 486.50,91.50 488.38,90.69" fill="#ff8080" stroke="#ff8080" stroke-width="1.3" stroke-linejoin="round"/><circle cx="489.73" cy="92.55" r="0.6" fill="#fff" fill-opacity="0.8"/>
<polygon points="473.05,72.54 474.40,74.08 476.28,74.89 475.24,76.65 475.05,78.69 473.05,78.24 471.05,78.69 470.86,76.65 469.81,74.89 471.70,74.08" fill="#ff8080" stroke="#ff8080" stroke-width="1.3" stroke-linejoin="round"/><circle cx="473.05" cy="75.94" r="0.6" fill="#fff" fill-opacity="0.8"/>
<polygon points="456.37,55.93 457.72,57.47 459.60,58.28 458.55,60.04 458.37,62.08 456.37,61.63 454.37,62.08 454.18,60.04 453.13,58.28 455.01,57.47" fill="#ff8080" stroke="#ff8080" stroke-width="1.3" stroke-linejoin="round"/><circle cx="456.37" cy="59.33" r="0.6" fill="#fff" fill-opacity="0.8"/>
<polygon points="439.69,39.32 441.04,40.86 442.92,41.67 441.87,43.43 441.68,45.47 439.69,45.02 437.69,45.47 437.50,43.43 436.45,41.67 438.33,40.86" fill="#ff8080" stroke="#ff8080" stroke-width="1.3" stroke-linejoin="round"/><circle cx="439.69" cy="42.72" r="0.6" fill="#fff" fill-opacity="0.8"/>
<polygon points="423.00,22.71 424.36,24.25 426.24,25.06 425.19,26.82 425.00,28.86 423.00,28.41 421.01,28.86 420.82,26.82 419.77,25.06 421.65,24.25" fill="#ff8080" stroke="#ff8080" stroke-width="1.3" stroke-linejoin="round"/><circle cx="423.00" cy="26.11" r="0.6" fill="#fff" fill-opacity="0.8"/>
<polygon points="406.32,6.10 407.67,7.64 409.56,8.45 408.51,10.21 408.32,12.25 406.32,11.80 404.32,12.25 404.13,10.21 403.09,8.45 404.97,7.64" fill="#ff8080" stroke="#ff8080" stroke-width="1.3" stroke-linejoin="round"/><circle cx="406.32" cy="9.50" r="0.6" fill="#fff" fill-opacity="0.8"/>
<polyline points="602.01,175.60 584.37,158.99 566.72,142.38 549.08,125.77 531.43,109.16 513.79,92.55 496.15,75.94 478.50,59.33 460.86,42.72 443.21,26.11 425.57,9.50" fill="none" stroke="#800080" stroke-width="2.1" stroke-linejoin="round"/>
<path d="M604.26,173.72 C604.38,171.35 601.38,171.10 601.38,173.72 C601.38,175.85 600.76,177.10 599.51,177.97 L605.26,178.22 M599.26,175.47 L603.01,175.47" fill="none" stroke="#800080" stroke-width="1.2" stroke-linecap="round" stroke-linejoin="round"/>
<path d="M586.62,157.12 C586.74,154.74 583.74,154.49 583.74,157.12 C583.74,159.24 583.12,160.49 581.87,161.37 L587.62,161.62 M581.62,158.87 L585.37,158.87" fill="none" stroke="#800080" stroke-width="1.2" stroke-linecap="round" stroke-linejoin="round"/>
<path d="M568.97,140.50 C569.10,138.13 566.10,137.88 566.10,140.50 C566.10,142.63 565.47,143.88 564.22,144.75 L569.97,145.00 M563.97,142.25 L567.72,142.25" fill="none" stroke="#800080" stroke-width="1.2" stroke-linecap="round" stroke-linejoin="round"/>
<path d="M551.33,123.89 C551.45,121.52 548.45,121.27 548.45,123.89 C548.45,126.02 547.83,127.27 546.58,128.14 L552.33,128.39 M546.33,125.64 L550.08,125.64" fill="none" stroke="#800080" stroke-width="1.2" stroke-linecap="round" stroke-linejoin="round"/>
<path d="M533.68,107.28 C533.81,104.91 530.81,104.66 530.81,107.28 C530.81,109.41 530.18,110.66 528.93,111.53 L534.68,111.78 M528.68,109.03 L532.43,109.03" fill="none" stroke="#800080" stroke-width="1.2" stroke-linecap="round" stroke-linejoin="round"/>
<path d="M516.04,90.67 C516.16,88.30 513.16,88.05 513.16,90.67 C513.16,92.80 512.54,94.05 511.29,94.92 L517.04,95.17 M511.04,92.42 L514.79,92.42" fill="none" stroke="#800080" stroke-width="1.2" stroke-linecap="round" stroke-linejoin="round"/>
<path d="M498.40,74.06 C498.52,71.69 495.52,71.44 495.52,74.06 C495.52,76.19 494.90,77.44 493.65,78.31 L499.40,78.56 M493.40,75.81 L497.15,75.81" fill="none" stroke="#800080" stroke-width="1.2" stroke-linecap="round" stroke-linejoin="round"/>
<path d="M480.75,57.46 C480.88,55.08 477.88,54.83 477.88,57.46 C477.88,59.58 477.25,60.83 476.00,61.71 L481.75,61.96 M475.75,59.21 L479.50,59.21" fill="none" stroke="#800080" stroke-width="1.2" stroke-linecap="round" stroke-linejoin="round"/>
<path d="M463.11,40.84 C463.23,38.47 460.23,38.22 460.23,40.84 C460.23,42.97 459.61,44.22 458.36,45.09 L464.11,45.34 M458.11,42.59 L461.86,42.59" fill="none" stroke="#800080" stroke-width="1.2" stroke-linecap="round" stroke-linejoin="round"/>
<path d="M445.46,24.23 C445.59,21.86 442.59,21.61 442.59,24.23 C442.59,26.36 441.96,27.61 440.71,28.48 L446.46,28.73 M440.46,25.98 L444.21,25.98" fill="none" stroke="#800080" stroke-width="1.2" stroke-linecap="round" stroke-linejoin="round"/>
<path d="M427.82,7.62 C427.95,5.25 424.95,5.00 424.95,7.62 C424.95,9.75 424.32,11.00 423.07,11.88 L428.82,12.12 M422.82,9.38 L426.57,9.38" fill="none" stroke="#800080" stroke-width="1.2" stroke-linecap="round" stroke-linejoin="round"/>
<polyline points="644.36,175.60 625.30,158.99 606.24,142.38 587.19,125.77 568.13,109.16 549.08,92.55 530.02,75.94 510.97,59.33 491.91,42.72 472.86,26.11 453.80,9.50" fill="none" stroke="#00ffff" stroke-width="2.1" stroke-linejoin="round"/>
<polygon points="644.36,172.88 645.06,174.89 647.88,175.60 645.06,176.31 644.36,178.32 643.65,176.31 640.84,175.60 643.65,174.89" fill="#00ffff" stroke="#00ffff" stroke-width="0.7" stroke-linejoin="round"/>
<polygon points="625.30,156.27 626.01,158.28 628.82,158.99 626.01,159.70 625.30,161.71 624.59,159.70 621.78,158.99 624.59,158.28" fill="#00ffff" stroke="#00ffff" stroke-width="0.7" stroke-linejoin="round"/>
<polygon points="606.24,139.66 606.95,141.67 609.76,142.38 606.95,143.09 606.24,145.10 605.54,143.09 602.72,142.38 605.54,141.67" fill="#00ffff" stroke="#00ffff" stroke-width="0.7" stroke-linejoin="round"/>
<polygon points="587.19,123.05 587.90,125.06 590.71,125.77 587.90,126.48 587.19,128.49 586.48,126.48 583.67,125.77 586.48,125.06" fill="#00ffff" stroke="#00ffff" stroke-width="0.7" stroke-linejoin="round"/>
<polygon points="568.13,106.44 568.84,108.45 571.65,109.16 568.84,109.87 568.13,111.88 567.43,109.87 564.61,109.16 567.43,108.45" fill="#00ffff" stroke="#00ffff" stroke-width="0.7" stroke-linejoin="round"/>
<polygon points="549.08,89.83 549.79,91.84 552.60,92.55 549.79,93.26 549.08,95.27 548.37,93.26 545.56,92.55 548.37,91.84" fill="#00ffff" stroke="#00ffff" stroke-width="0.7" stroke-linejoin="round"/>
<polygon points="530.02,73.22 530.73,75.23 533.54,75.94 530.73,76.65 530.02,78.66 529.32,76.65 526.50,75.94 529.32,75.23" fill="#00ffff" stroke="#00ffff" stroke-width="0.7" stroke-linejoin="round"/>
<polygon points="510.97,56.61 511.67,58.62 514.49,59.33 511.67,60.04 510.97,62.05 510.26,60.04 507.45,59.33 510.26,58.62" fill="#00ffff" stroke="#00ffff" stroke-width="0.7" stroke-linejoin="round"/>
<polygon points="491.91,40.00 492.62,42.01 495.43,42.72 492.62,43.43 491.91,45.44 491.20,43.43 488.39,42.72 491.20,42.01" fill="#00ffff" stroke="#00ffff" stroke-width="0.7" stroke-linejoin="round"/>
<polygon points="472.86,23.39 473.56,25.40 476.38,26.11 473.56,26.82 472.86,28.83 472.15,26.82 469.34,26.11 472.15,25.40" fill="#00ffff" stroke="#00ffff" stroke-width="0.7" stroke-linejoin="round"/>
<polygon points="453.80,6.78 454.51,8.79 457.32,9.50 454.51,10.21 453.80,12.22 453.09,10.21 450.28,9.50 453.09,8.79" fill="#00ffff" stroke="#00ffff" stroke-width="0.7" stroke-linejoin="round"/>
<polyline points="679.00,175.60 658.79,158.99 638.58,142.38 618.37,125.77 598.16,109.16 577.95,92.55 557.74,75.94 537.53,59.33 517.32,42.72 497.11,26.11 476.90,9.50" fill="none" stroke="#ff00ff" stroke-width="2.1" stroke-linejoin="round"/>
<path d="M675.80,172.40 Q679.00,175.10 681.24,175.60 Q679.00,176.10 675.80,178.80" fill="none" stroke="#ff00ff" stroke-width="1.4"/><line x1="675.80" y1="175.60" x2="682.20" y2="175.60" stroke="#ff00ff" stroke-width="1.4"/>
<path d="M655.59,155.79 Q658.79,158.49 661.03,158.99 Q658.79,159.49 655.59,162.19" fill="none" stroke="#ff00ff" stroke-width="1.4"/><line x1="655.59" y1="158.99" x2="661.99" y2="158.99" stroke="#ff00ff" stroke-width="1.4"/>
<path d="M635.38,139.18 Q638.58,141.88 640.82,142.38 Q638.58,142.88 635.38,145.58" fill="none" stroke="#ff00ff" stroke-width="1.4"/><line x1="635.38" y1="142.38" x2="641.78" y2="142.38" stroke="#ff00ff" stroke-width="1.4"/>
<path d="M615.17,122.57 Q618.37,125.27 620.61,125.77 Q618.37,126.27 615.17,128.97" fill="none" stroke="#ff00ff" stroke-width="1.4"/><line x1="615.17" y1="125.77" x2="621.57" y2="125.77" stroke="#ff00ff" stroke-width="1.4"/>
<path d="M594.96,105.96 Q598.16,108.66 600.40,109.16 Q598.16,109.66 594.96,112.36" fill="none" stroke="#ff00ff" stroke-width="1.4"/><line x1="594.96" y1="109.16" x2="601.36" y2="109.16" stroke="#ff00ff" stroke-width="1.4"/>
<path d="M574.75,89.35 Q577.95,92.05 580.19,92.55 Q577.95,93.05 574.75,95.75" fill="none" stroke="#ff00ff" stroke-width="1.4"/><line x1="574.75" y1="92.55" x2="581.15" y2="92.55" stroke="#ff00ff" stroke-width="1.4"/>
<path d="M554.54,72.74 Q557.74,75.44 559.98,75.94 Q557.74,76.44 554.54,79.14" fill="none" stroke="#ff00ff" stroke-width="1.4"/><line x1="554.54" y1="75.94" x2="560.94" y2="75.94" stroke="#ff00ff" stroke-width="1.4"/>
<path d="M534.33,56.13 Q537.53,58.83 539.77,59.33 Q537.53,59.83 534.33,62.53" fill="none" stroke="#ff00ff" stroke-width="1.4"/><line x1="534.33" y1="59.33" x2="540.73" y2="59.33" stroke="#ff00ff" stroke-width="1.4"/>
<path d="M514.12,39.52 Q517.32,42.22 519.56,42.72 Q517.32,43.22 514.12,45.92" fill="none" stroke="#ff00ff" stroke-width="1.4"/><line x1="514.12" y1="42.72" x2="520.52" y2="42.72" stroke="#ff00ff" stroke-width="1.4"/>
<path d="M493.91,22.91 Q497.11,25.61 499.35,26.11 Q497.11,26.61 493.91,29.31" fill="none" stroke="#ff00ff" stroke-width="1.4"/><line x1="493.91" y1="26.11" x2="500.31" y2="26.11" stroke="#ff00ff" stroke-width="1.4"/>
<path d="M473.70,6.30 Q476.90,9.00 479.14,9.50 Q476.90,10.00 473.70,12.70" fill="none" stroke="#ff00ff" stroke-width="1.4"/><line x1="473.70" y1="9.50" x2="480.10" y2="9.50" stroke="#ff00ff" stroke-width="1.4"/>
<rect x="636.5" y="7.5" width="35.0" height="91.0" fill="#fff" stroke="#777" stroke-width="1"/>
<line x1="636.30" y1="26.50" x2="644.30" y2="26.50" stroke="#ff8080" stroke-width="1.5"/>
<polygon points="640.30,23.10 641.65,24.64 643.53,25.45 642.49,27.21 642.30,29.25 640.30,28.80 638.30,29.25 638.11,27.21 637.07,25.45 638.95,24.64" fill="#ff8080" stroke="#ff8080" stroke-width="1.3" stroke-linejoin="round"/><circle cx="640.30" cy="26.50" r="0.6" fill="#fff" fill-opacity="0.8"/>
<text transform="translate(645.7,24.00) scale(0.85,1)" font-family="Liberation Sans, Arial, sans-serif" font-style="italic" font-size="9.4" fill="#000" stroke="#000" stroke-width="0.15">t=0</text>
<line x1="636.30" y1="48.30" x2="644.30" y2="48.30" stroke="#800080" stroke-width="1.5"/>
<path d="M642.55,46.42 C642.67,44.05 639.67,43.80 639.67,46.42 C639.67,48.55 639.05,49.80 637.80,50.67 L643.55,50.92 M637.55,48.17 L641.30,48.17" fill="none" stroke="#800080" stroke-width="1.2" stroke-linecap="round" stroke-linejoin="round"/>
<text transform="translate(645.7,45.80) scale(0.85,1)" font-family="Liberation Sans, Arial, sans-serif" font-style="italic" font-size="9.4" fill="#000" stroke="#000" stroke-width="0.15">t=0.2</text>
<line x1="636.30" y1="70.10" x2="644.30" y2="70.10" stroke="#00ffff" stroke-width="1.5"/>
<polygon points="640.30,67.38 641.01,69.39 643.82,70.10 641.01,70.81 640.30,72.82 639.59,70.81 636.78,70.10 639.59,69.39" fill="#00ffff" stroke="#00ffff" stroke-width="0.7" stroke-linejoin="round"/>
<text transform="translate(645.7,67.60) scale(0.85,1)" font-family="Liberation Sans, Arial, sans-serif" font-style="italic" font-size="9.4" fill="#000" stroke="#000" stroke-width="0.15">t=0.4</text>
<line x1="636.30" y1="91.90" x2="644.30" y2="91.90" stroke="#ff00ff" stroke-width="1.5"/>
<path d="M637.10,88.70 Q640.30,91.40 642.54,91.90 Q640.30,92.40 637.10,95.10" fill="none" stroke="#ff00ff" stroke-width="1.4"/><line x1="637.10" y1="91.90" x2="643.50" y2="91.90" stroke="#ff00ff" stroke-width="1.4"/>
<text transform="translate(645.7,89.40) scale(0.85,1)" font-family="Liberation Sans, Arial, sans-serif" font-style="italic" font-size="9.4" fill="#000" stroke="#000" stroke-width="0.15">t=0.6</text>
<text transform="translate(371.2,89.9) rotate(-90)" font-family="Liberation Sans, Arial, sans-serif" font-weight="bold" font-size="10" fill="#000" stroke="#000" stroke-width="0.25" text-anchor="middle">k–cut</text>
<line x1="239.87" y1="250.55" x2="239.87" y2="422.5" stroke="#cfcfcf" stroke-width="1.3"/>
<line x1="278.19" y1="250.55" x2="278.19" y2="422.5" stroke="#cfcfcf" stroke-width="1.3"/>
<line x1="316.51" y1="250.55" x2="316.51" y2="422.5" stroke="#cfcfcf" stroke-width="1.3"/>
<line x1="354.83" y1="250.55" x2="354.83" y2="422.5" stroke="#cfcfcf" stroke-width="1.3"/>
<line x1="393.15" y1="250.55" x2="393.15" y2="422.5" stroke="#cfcfcf" stroke-width="1.3"/>
<line x1="431.47" y1="250.55" x2="431.47" y2="422.5" stroke="#cfcfcf" stroke-width="1.3"/>
<line x1="469.79" y1="250.55" x2="469.79" y2="422.5" stroke="#cfcfcf" stroke-width="1.3"/>
<line x1="213.55" y1="386.75" x2="492.5" y2="386.75" stroke="#cfcfcf" stroke-width="1.3"/>
<line x1="213.55" y1="354.78" x2="492.5" y2="354.78" stroke="#cfcfcf" stroke-width="1.3"/>
<line x1="213.55" y1="322.80" x2="492.5" y2="322.80" stroke="#cfcfcf" stroke-width="1.3"/>
<line x1="213.55" y1="290.83" x2="492.5" y2="290.83" stroke="#cfcfcf" stroke-width="1.3"/>
<line x1="213.55" y1="258.86" x2="492.5" y2="258.86" stroke="#cfcfcf" stroke-width="1.3"/>
<rect x="213.55" y="250.55" width="278.95" height="171.95" fill="none" stroke="#939393" stroke-width="1.1"/>
<line x1="239.87" y1="422.5" x2="239.87" y2="419.3" stroke="#939393" stroke-width="0.9"/>
<line x1="239.87" y1="250.55" x2="239.87" y2="253.75" stroke="#939393" stroke-width="0.9"/>
<line x1="278.19" y1="422.5" x2="278.19" y2="419.3" stroke="#939393" stroke-width="0.9"/>
<line x1="278.19" y1="250.55" x2="278.19" y2="253.75" stroke="#939393" stroke-width="0.9"/>
<line x1="316.51" y1="422.5" x2="316.51" y2="419.3" stroke="#939393" stroke-width="0.9"/>
<line x1="316.51" y1="250.55" x2="316.51" y2="253.75" stroke="#939393" stroke-width="0.9"/>
<line x1="354.83" y1="422.5" x2="354.83" y2="419.3" stroke="#939393" stroke-width="0.9"/>
<line x1="354.83" y1="250.55" x2="354.83" y2="253.75" stroke="#939393" stroke-width="0.9"/>
<line x1="393.15" y1="422.5" x2="393.15" y2="419.3" stroke="#939393" stroke-width="0.9"/>
<line x1="393.15" y1="250.55" x2="393.15" y2="253.75" stroke="#939393" stroke-width="0.9"/>
<line x1="431.47" y1="422.5" x2="431.47" y2="419.3" stroke="#939393" stroke-width="0.9"/>
<line x1="431.47" y1="250.55" x2="431.47" y2="253.75" stroke="#939393" stroke-width="0.9"/>
<line x1="469.79" y1="422.5" x2="469.79" y2="419.3" stroke="#939393" stroke-width="0.9"/>
<line x1="469.79" y1="250.55" x2="469.79" y2="253.75" stroke="#939393" stroke-width="0.9"/>
<line x1="220.71" y1="422.5" x2="220.71" y2="421.0" stroke="#939393" stroke-width="0.9"/>
<line x1="220.71" y1="250.55" x2="220.71" y2="252.05" stroke="#939393" stroke-width="0.9"/>
<line x1="230.29" y1="422.5" x2="230.29" y2="421.0" stroke="#939393" stroke-width="0.9"/>
<line x1="230.29" y1="250.55" x2="230.29" y2="252.05" stroke="#939393" stroke-width="0.9"/>
<line x1="249.45" y1="422.5" x2="249.45" y2="421.0" stroke="#939393" stroke-width="0.9"/>
<line x1="249.45" y1="250.55" x2="249.45" y2="252.05" stroke="#939393" stroke-width="0.9"/>
<line x1="259.03" y1="422.5" x2="259.03" y2="421.0" stroke="#939393" stroke-width="0.9"/>
<line x1="259.03" y1="250.55" x2="259.03" y2="252.05" stroke="#939393" stroke-width="0.9"/>
<line x1="268.61" y1="422.5" x2="268.61" y2="421.0" stroke="#939393" stroke-width="0.9"/>
<line x1="268.61" y1="250.55" x2="268.61" y2="252.05" stroke="#939393" stroke-width="0.9"/>
<line x1="287.77" y1="422.5" x2="287.77" y2="421.0" stroke="#939393" stroke-width="0.9"/>
<line x1="287.77" y1="250.55" x2="287.77" y2="252.05" stroke="#939393" stroke-width="0.9"/>
<line x1="297.35" y1="422.5" x2="297.35" y2="421.0" stroke="#939393" stroke-width="0.9"/>
<line x1="297.35" y1="250.55" x2="297.35" y2="252.05" stroke="#939393" stroke-width="0.9"/>
<line x1="306.93" y1="422.5" x2="306.93" y2="421.0" stroke="#939393" stroke-width="0.9"/>
<line x1="306.93" y1="250.55" x2="306.93" y2="252.05" stroke="#939393" stroke-width="0.9"/>
<line x1="326.09" y1="422.5" x2="326.09" y2="421.0" stroke="#939393" stroke-width="0.9"/>
<line x1="326.09" y1="250.55" x2="326.09" y2="252.05" stroke="#939393" stroke-width="0.9"/>
<line x1="335.67" y1="422.5" x2="335.67" y2="421.0" stroke="#939393" stroke-width="0.9"/>
<line x1="335.67" y1="250.55" x2="335.67" y2="252.05" stroke="#939393" stroke-width="0.9"/>
<line x1="345.25" y1="422.5" x2="345.25" y2="421.0" stroke="#939393" stroke-width="0.9"/>
<line x1="345.25" y1="250.55" x2="345.25" y2="252.05" stroke="#939393" stroke-width="0.9"/>
<line x1="364.41" y1="422.5" x2="364.41" y2="421.0" stroke="#939393" stroke-width="0.9"/>
<line x1="364.41" y1="250.55" x2="364.41" y2="252.05" stroke="#939393" stroke-width="0.9"/>
<line x1="373.99" y1="422.5" x2="373.99" y2="421.0" stroke="#939393" stroke-width="0.9"/>
<line x1="373.99" y1="250.55" x2="373.99" y2="252.05" stroke="#939393" stroke-width="0.9"/>
<line x1="383.57" y1="422.5" x2="383.57" y2="421.0" stroke="#939393" stroke-width="0.9"/>
<line x1="383.57" y1="250.55" x2="383.57" y2="252.05" stroke="#939393" stroke-width="0.9"/>
<line x1="402.73" y1="422.5" x2="402.73" y2="421.0" stroke="#939393" stroke-width="0.9"/>
<line x1="402.73" y1="250.55" x2="402.73" y2="252.05" stroke="#939393" stroke-width="0.9"/>
<line x1="412.31" y1="422.5" x2="412.31" y2="421.0" stroke="#939393" stroke-width="0.9"/>
<line x1="412.31" y1="250.55" x2="412.31" y2="252.05" stroke="#939393" stroke-width="0.9"/>
<line x1="421.89" y1="422.5" x2="421.89" y2="421.0" stroke="#939393" stroke-width="0.9"/>
<line x1="421.89" y1="250.55" x2="421.89" y2="252.05" stroke="#939393" stroke-width="0.9"/>
<line x1="441.05" y1="422.5" x2="441.05" y2="421.0" stroke="#939393" stroke-width="0.9"/>
<line x1="441.05" y1="250.55" x2="441.05" y2="252.05" stroke="#939393" stroke-width="0.9"/>
<line x1="450.63" y1="422.5" x2="450.63" y2="421.0" stroke="#939393" stroke-width="0.9"/>
<line x1="450.63" y1="250.55" x2="450.63" y2="252.05" stroke="#939393" stroke-width="0.9"/>
<line x1="460.21" y1="422.5" x2="460.21" y2="421.0" stroke="#939393" stroke-width="0.9"/>
<line x1="460.21" y1="250.55" x2="460.21" y2="252.05" stroke="#939393" stroke-width="0.9"/>
<line x1="479.37" y1="422.5" x2="479.37" y2="421.0" stroke="#939393" stroke-width="0.9"/>
<line x1="479.37" y1="250.55" x2="479.37" y2="252.05" stroke="#939393" stroke-width="0.9"/>
<line x1="488.95" y1="422.5" x2="488.95" y2="421.0" stroke="#939393" stroke-width="0.9"/>
<line x1="488.95" y1="250.55" x2="488.95" y2="252.05" stroke="#939393" stroke-width="0.9"/>
<line x1="213.55" y1="418.72" x2="216.75" y2="418.72" stroke="#939393" stroke-width="0.9"/>
<line x1="492.5" y1="418.72" x2="489.3" y2="418.72" stroke="#939393" stroke-width="0.9"/>
<line x1="213.55" y1="386.75" x2="216.75" y2="386.75" stroke="#939393" stroke-width="0.9"/>
<line x1="492.5" y1="386.75" x2="489.3" y2="386.75" stroke="#939393" stroke-width="0.9"/>
<line x1="213.55" y1="354.78" x2="216.75" y2="354.78" stroke="#939393" stroke-width="0.9"/>
<line x1="492.5" y1="354.78" x2="489.3" y2="354.78" stroke="#939393" stroke-width="0.9"/>
<line x1="213.55" y1="322.80" x2="216.75" y2="322.80" stroke="#939393" stroke-width="0.9"/>
<line x1="492.5" y1="322.80" x2="489.3" y2="322.80" stroke="#939393" stroke-width="0.9"/>
<line x1="213.55" y1="290.83" x2="216.75" y2="290.83" stroke="#939393" stroke-width="0.9"/>
<line x1="492.5" y1="290.83" x2="489.3" y2="290.83" stroke="#939393" stroke-width="0.9"/>
<line x1="213.55" y1="258.86" x2="216.75" y2="258.86" stroke="#939393" stroke-width="0.9"/>
<line x1="492.5" y1="258.86" x2="489.3" y2="258.86" stroke="#939393" stroke-width="0.9"/>
<line x1="213.55" y1="410.73" x2="215.05" y2="410.73" stroke="#939393" stroke-width="0.9"/>
<line x1="492.5" y1="410.73" x2="491.0" y2="410.73" stroke="#939393" stroke-width="0.9"/>
<line x1="213.55" y1="402.73" x2="215.05" y2="402.73" stroke="#939393" stroke-width="0.9"/>
<line x1="492.5" y1="402.73" x2="491.0" y2="402.73" stroke="#939393" stroke-width="0.9"/>
<line x1="213.55" y1="394.74" x2="215.05" y2="394.74" stroke="#939393" stroke-width="0.9"/>
<line x1="492.5" y1="394.74" x2="491.0" y2="394.74" stroke="#939393" stroke-width="0.9"/>
<line x1="213.55" y1="378.75" x2="215.05" y2="378.75" stroke="#939393" stroke-width="0.9"/>
<line x1="492.5" y1="378.75" x2="491.0" y2="378.75" stroke="#939393" stroke-width="0.9"/>
<line x1="213.55" y1="370.76" x2="215.05" y2="370.76" stroke="#939393" stroke-width="0.9"/>
<line x1="492.5" y1="370.76" x2="491.0" y2="370.76" stroke="#939393" stroke-width="0.9"/>
<line x1="213.55" y1="362.77" x2="215.05" y2="362.77" stroke="#939393" stroke-width="0.9"/>
<line x1="492.5" y1="362.77" x2="491.0" y2="362.77" stroke="#939393" stroke-width="0.9"/>
<line x1="213.55" y1="346.78" x2="215.05" y2="346.78" stroke="#939393" stroke-width="0.9"/>
<line x1="492.5" y1="346.78" x2="491.0" y2="346.78" stroke="#939393" stroke-width="0.9"/>
<line x1="213.55" y1="338.79" x2="215.05" y2="338.79" stroke="#939393" stroke-width="0.9"/>
<line x1="492.5" y1="338.79" x2="491.0" y2="338.79" stroke="#939393" stroke-width="0.9"/>
<line x1="213.55" y1="330.80" x2="215.05" y2="330.80" stroke="#939393" stroke-width="0.9"/>
<line x1="492.5" y1="330.80" x2="491.0" y2="330.80" stroke="#939393" stroke-width="0.9"/>
<line x1="213.55" y1="314.81" x2="215.05" y2="314.81" stroke="#939393" stroke-width="0.9"/>
<line x1="492.5" y1="314.81" x2="491.0" y2="314.81" stroke="#939393" stroke-width="0.9"/>
<line x1="213.55" y1="306.82" x2="215.05" y2="306.82" stroke="#939393" stroke-width="0.9"/>
<line x1="492.5" y1="306.82" x2="491.0" y2="306.82" stroke="#939393" stroke-width="0.9"/>
<line x1="213.55" y1="298.83" x2="215.05" y2="298.83" stroke="#939393" stroke-width="0.9"/>
<line x1="492.5" y1="298.83" x2="491.0" y2="298.83" stroke="#939393" stroke-width="0.9"/>
<line x1="213.55" y1="282.84" x2="215.05" y2="282.84" stroke="#939393" stroke-width="0.9"/>
<line x1="492.5" y1="282.84" x2="491.0" y2="282.84" stroke="#939393" stroke-width="0.9"/>
<line x1="213.55" y1="274.85" x2="215.05" y2="274.85" stroke="#939393" stroke-width="0.9"/>
<line x1="492.5" y1="274.85" x2="491.0" y2="274.85" stroke="#939393" stroke-width="0.9"/>
<line x1="213.55" y1="266.85" x2="215.05" y2="266.85" stroke="#939393" stroke-width="0.9"/>
<line x1="492.5" y1="266.85" x2="491.0" y2="266.85" stroke="#939393" stroke-width="0.9"/>
<text transform="translate(239.87,434.5) scale(1.0,1)" font-family="Liberation Sans, Arial, sans-serif" font-weight="bold" font-size="10" fill="#666" stroke="#666" stroke-width="0.25" text-anchor="middle">0.6</text>
<text transform="translate(278.19,434.5) scale(1.0,1)" font-family="Liberation Sans, Arial, sans-serif" font-weight="bold" font-size="10" fill="#666" stroke="#666" stroke-width="0.25" text-anchor="middle">0.8</text>
<text transform="translate(316.51,434.5) scale(1.0,1)" font-family="Liberation Sans, Arial, sans-serif" font-weight="bold" font-size="10" fill="#666" stroke="#666" stroke-width="0.25" text-anchor="middle">1.0</text>
<text transform="translate(354.83,434.5) scale(1.0,1)" font-family="Liberation Sans, Arial, sans-serif" font-weight="bold" font-size="10" fill="#666" stroke="#666" stroke-width="0.25" text-anchor="middle">1.2</text>
<text transform="translate(393.15,434.5) scale(1.0,1)" font-family="Liberation Sans, Arial, sans-serif" font-weight="bold" font-size="10" fill="#666" stroke="#666" stroke-width="0.25" text-anchor="middle">1.4</text>
<text transform="translate(431.47,434.5) scale(1.0,1)" font-family="Liberation Sans, Arial, sans-serif" font-weight="bold" font-size="10" fill="#666" stroke="#666" stroke-width="0.25" text-anchor="middle">1.6</text>
<text transform="translate(469.79,434.5) scale(1.0,1)" font-family="Liberation Sans, Arial, sans-serif" font-weight="bold" font-size="10" fill="#666" stroke="#666" stroke-width="0.25" text-anchor="middle">1.8</text>
<text transform="translate(210.0,421.82) scale(1.0,1)" font-family="Liberation Sans, Arial, sans-serif" font-weight="bold" font-size="10" fill="#666" stroke="#666" stroke-width="0.25" text-anchor="end">0.0</text>
<text transform="translate(210.0,389.85) scale(1.0,1)" font-family="Liberation Sans, Arial, sans-serif" font-weight="bold" font-size="10" fill="#666" stroke="#666" stroke-width="0.25" text-anchor="end">0.2</text>
<text transform="translate(210.0,357.88) scale(1.0,1)" font-family="Liberation Sans, Arial, sans-serif" font-weight="bold" font-size="10" fill="#666" stroke="#666" stroke-width="0.25" text-anchor="end">0.4</text>
<text transform="translate(210.0,325.90) scale(1.0,1)" font-family="Liberation Sans, Arial, sans-serif" font-weight="bold" font-size="10" fill="#666" stroke="#666" stroke-width="0.25" text-anchor="end">0.6</text>
<text transform="translate(210.0,293.93) scale(1.0,1)" font-family="Liberation Sans, Arial, sans-serif" font-weight="bold" font-size="10" fill="#666" stroke="#666" stroke-width="0.25" text-anchor="end">0.8</text>
<text transform="translate(210.0,261.96) scale(1.0,1)" font-family="Liberation Sans, Arial, sans-serif" font-weight="bold" font-size="10" fill="#666" stroke="#666" stroke-width="0.25" text-anchor="end">1.0</text>
<polyline points="224.54,418.72 234.51,402.73 244.47,386.75 254.43,370.76 264.39,354.78 274.36,338.79 284.32,322.80 294.28,306.82 304.25,290.83 314.21,274.85 324.17,258.86" fill="none" stroke="#ff0000" stroke-width="1.9" stroke-linejoin="round"/>
<g transform="translate(224.54,418.72) scale(1.15) translate(-224.54,-418.72)"><polygon points="224.54,415.32 225.89,416.86 227.78,417.67 226.73,419.43 226.54,421.47 224.54,421.02 222.54,421.47 222.35,419.43 221.31,417.67 223.19,416.86" fill="#ff0000" stroke="#ff0000" stroke-width="1.3" stroke-linejoin="round"/><circle cx="224.54" cy="418.72" r="0.6" fill="#fff" fill-opacity="0.8"/></g>
<g transform="translate(234.51,402.73) scale(1.15) translate(-234.51,-402.73)"><polygon points="234.51,399.33 235.86,400.87 237.74,401.68 236.69,403.44 236.50,405.48 234.51,405.03 232.51,405.48 232.32,403.44 231.27,401.68 233.15,400.87" fill="#ff0000" stroke="#ff0000" stroke-width="1.3" stroke-linejoin="round"/><circle cx="234.51" cy="402.73" r="0.6" fill="#fff" fill-opacity="0.8"/></g>
<g transform="translate(244.47,386.75) scale(1.15) translate(-244.47,-386.75)"><polygon points="244.47,383.35 245.82,384.89 247.70,385.70 246.66,387.46 246.47,389.50 244.47,389.05 242.47,389.50 242.28,387.46 241.23,385.70 243.12,384.89" fill="#ff0000" stroke="#ff0000" stroke-width="1.3" stroke-linejoin="round"/><circle cx="244.47" cy="386.75" r="0.6" fill="#fff" fill-opacity="0.8"/></g>
<g transform="translate(254.43,370.76) scale(1.15) translate(-254.43,-370.76)"><polygon points="254.43,367.36 255.78,368.90 257.67,369.71 256.62,371.47 256.43,373.51 254.43,373.06 252.43,373.51 252.24,371.47 251.20,369.71 253.08,368.90" fill="#ff0000" stroke="#ff0000" stroke-width="1.3" stroke-linejoin="round"/><circle cx="254.43" cy="370.76" r="0.6" fill="#fff" fill-opacity="0.8"/></g>
<g transform="translate(264.39,354.78) scale(1.15) translate(-264.39,-354.78)"><polygon points="264.39,351.38 265.75,352.92 267.63,353.73 266.58,355.49 266.39,357.53 264.39,357.08 262.40,357.53 262.21,355.49 261.16,353.73 263.04,352.92" fill="#ff0000" stroke="#ff0000" stroke-width="1.3" stroke-linejoin="round"/><circle cx="264.39" cy="354.78" r="0.6" fill="#fff" fill-opacity="0.8"/></g>
<g transform="translate(274.36,338.79) scale(1.15) translate(-274.36,-338.79)"><polygon points="274.36,335.39 275.71,336.93 277.59,337.74 276.55,339.50 276.36,341.54 274.36,341.09 272.36,341.54 272.17,339.50 271.12,337.74 273.01,336.93" fill="#ff0000" stroke="#ff0000" stroke-width="1.3" stroke-linejoin="round"/><circle cx="274.36" cy="338.79" r="0.6" fill="#fff" fill-opacity="0.8"/></g>
<g transform="translate(284.32,322.80) scale(1.15) translate(-284.32,-322.80)"><polygon points="284.32,319.40 285.67,320.94 287.55,321.75 286.51,323.51 286.32,325.55 284.32,325.10 282.32,325.55 282.13,323.51 281.09,321.75 282.97,320.94" fill="#ff0000" stroke="#ff0000" stroke-width="1.3" stroke-linejoin="round"/><circle cx="284.32" cy="322.80" r="0.6" fill="#fff" fill-opacity="0.8"/></g>
<g transform="translate(294.28,306.82) scale(1.15) translate(-294.28,-306.82)"><polygon points="294.28,303.42 295.64,304.96 297.52,305.77 296.47,307.53 296.28,309.57 294.28,309.12 292.29,309.57 292.10,307.53 291.05,305.77 292.93,304.96" fill="#ff0000" stroke="#ff0000" stroke-width="1.3" stroke-linejoin="round"/><circle cx="294.28" cy="306.82" r="0.6" fill="#fff" fill-opacity="0.8"/></g>
<g transform="translate(304.25,290.83) scale(1.15) translate(-304.25,-290.83)"><polygon points="304.25,287.43 305.60,288.97 307.48,289.78 306.44,291.54 306.25,293.58 304.25,293.13 302.25,293.58 302.06,291.54 301.01,289.78 302.90,288.97" fill="#ff0000" stroke="#ff0000" stroke-width="1.3" stroke-linejoin="round"/><circle cx="304.25" cy="290.83" r="0.6" fill="#fff" fill-opacity="0.8"/></g>
<g transform="translate(314.21,274.85) scale(1.15) translate(-314.21,-274.85)"><polygon points="314.21,271.45 315.56,272.99 317.44,273.80 316.40,275.56 316.21,277.60 314.21,277.15 312.21,277.60 312.02,275.56 310.98,273.80 312.86,272.99" fill="#ff0000" stroke="#ff0000" stroke-width="1.3" stroke-linejoin="round"/><circle cx="314.21" cy="274.85" r="0.6" fill="#fff" fill-opacity="0.8"/></g>
<g transform="translate(324.17,258.86) scale(1.15) translate(-324.17,-258.86)"><polygon points="324.17,255.46 325.53,257.00 327.41,257.81 326.36,259.57 326.17,261.61 324.17,261.16 322.18,261.61 321.99,259.57 320.94,257.81 322.82,257.00" fill="#ff0000" stroke="#ff0000" stroke-width="1.3" stroke-linejoin="round"/><circle cx="324.17" cy="258.86" r="0.6" fill="#fff" fill-opacity="0.8"/></g>
<polyline points="230.29,418.72 240.83,402.73 251.37,386.75 261.90,370.76 272.44,354.78 282.98,338.79 293.52,322.80 304.06,306.82 314.59,290.83 325.13,274.85 335.67,258.86" fill="none" stroke="#0000ff" stroke-width="1.9" stroke-linejoin="round"/>
<g transform="translate(230.29,418.72) scale(1.15) translate(-230.29,-418.72)"><path d="M232.54,416.85 C232.67,414.47 229.67,414.22 229.67,416.85 C229.67,418.97 229.04,420.22 227.79,421.10 L233.54,421.35 M227.54,418.60 L231.29,418.60" fill="none" stroke="#0000ff" stroke-width="1.2" stroke-linecap="round" stroke-linejoin="round"/></g>
<g transform="translate(240.83,402.73) scale(1.15) translate(-240.83,-402.73)"><path d="M243.08,400.86 C243.20,398.48 240.20,398.23 240.20,400.86 C240.20,402.98 239.58,404.23 238.33,405.11 L244.08,405.36 M238.08,402.61 L241.83,402.61" fill="none" stroke="#0000ff" stroke-width="1.2" stroke-linecap="round" stroke-linejoin="round"/></g>
<g transform="translate(251.37,386.75) scale(1.15) translate(-251.37,-386.75)"><path d="M253.62,384.87 C253.74,382.50 250.74,382.25 250.74,384.87 C250.74,387.00 250.12,388.25 248.87,389.12 L254.62,389.37 M248.62,386.62 L252.37,386.62" fill="none" stroke="#0000ff" stroke-width="1.2" stroke-linecap="round" stroke-linejoin="round"/></g>
<g transform="translate(261.90,370.76) scale(1.15) translate(-261.90,-370.76)"><path d="M264.15,368.89 C264.28,366.51 261.28,366.26 261.28,368.89 C261.28,371.01 260.65,372.26 259.40,373.14 L265.15,373.39 M259.15,370.64 L262.90,370.64" fill="none" stroke="#0000ff" stroke-width="1.2" stroke-linecap="round" stroke-linejoin="round"/></g>
<g transform="translate(272.44,354.78) scale(1.15) translate(-272.44,-354.78)"><path d="M274.69,352.90 C274.82,350.53 271.82,350.28 271.82,352.90 C271.82,355.03 271.19,356.28 269.94,357.15 L275.69,357.40 M269.69,354.65 L273.44,354.65" fill="none" stroke="#0000ff" stroke-width="1.2" stroke-linecap="round" stroke-linejoin="round"/></g>
<g transform="translate(282.98,338.79) scale(1.15) translate(-282.98,-338.79)"><path d="M285.23,336.92 C285.36,334.54 282.36,334.29 282.36,336.92 C282.36,339.04 281.73,340.29 280.48,341.17 L286.23,341.42 M280.23,338.67 L283.98,338.67" fill="none" stroke="#0000ff" stroke-width="1.2" stroke-linecap="round" stroke-linejoin="round"/></g>
<g transform="translate(293.52,322.80) scale(1.15) translate(-293.52,-322.80)"><path d="M295.77,320.93 C295.89,318.55 292.89,318.30 292.89,320.93 C292.89,323.05 292.27,324.30 291.02,325.18 L296.77,325.43 M290.77,322.68 L294.52,322.68" fill="none" stroke="#0000ff" stroke-width="1.2" stroke-linecap="round" stroke-linejoin="round"/></g>
<g transform="translate(304.06,306.82) scale(1.15) translate(-304.06,-306.82)"><path d="M306.31,304.94 C306.43,302.57 303.43,302.32 303.43,304.94 C303.43,307.07 302.81,308.32 301.56,309.19 L307.31,309.44 M301.31,306.69 L305.06,306.69" fill="none" stroke="#0000ff" stroke-width="1.2" stroke-linecap="round" stroke-linejoin="round"/></g>
<g transform="translate(314.59,290.83) scale(1.15) translate(-314.59,-290.83)"><path d="M316.84,288.96 C316.97,286.58 313.97,286.33 313.97,288.96 C313.97,291.08 313.34,292.33 312.09,293.21 L317.84,293.46 M311.84,290.71 L315.59,290.71" fill="none" stroke="#0000ff" stroke-width="1.2" stroke-linecap="round" stroke-linejoin="round"/></g>
<g transform="translate(325.13,274.85) scale(1.15) translate(-325.13,-274.85)"><path d="M327.38,272.97 C327.51,270.60 324.51,270.35 324.51,272.97 C324.51,275.10 323.88,276.35 322.63,277.22 L328.38,277.47 M322.38,274.72 L326.13,274.72" fill="none" stroke="#0000ff" stroke-width="1.2" stroke-linecap="round" stroke-linejoin="round"/></g>
<g transform="translate(335.67,258.86) scale(1.15) translate(-335.67,-258.86)"><path d="M337.92,256.99 C338.05,254.61 335.05,254.36 335.05,256.99 C335.05,259.11 334.42,260.36 333.17,261.24 L338.92,261.49 M332.92,258.74 L336.67,258.74" fill="none" stroke="#0000ff" stroke-width="1.2" stroke-linecap="round" stroke-linejoin="round"/></g>
<polyline points="238.72,418.72 250.10,402.73 261.48,386.75 272.86,370.76 284.24,354.78 295.63,338.79 307.01,322.80 318.39,306.82 329.77,290.83 341.15,274.85 352.53,258.86" fill="none" stroke="#00ff00" stroke-width="1.9" stroke-linejoin="round"/>
<g transform="translate(238.72,418.72) scale(1.15) translate(-238.72,-418.72)"><polygon points="238.72,416.00 239.43,418.01 242.24,418.72 239.43,419.43 238.72,421.44 238.01,419.43 235.20,418.72 238.01,418.01" fill="#00ff00" stroke="#00ff00" stroke-width="0.7" stroke-linejoin="round"/></g>
<g transform="translate(250.10,402.73) scale(1.15) translate(-250.10,-402.73)"><polygon points="250.10,400.01 250.81,402.03 253.62,402.73 250.81,403.44 250.10,405.45 249.39,403.44 246.58,402.73 249.39,402.03" fill="#00ff00" stroke="#00ff00" stroke-width="0.7" stroke-linejoin="round"/></g>
<g transform="translate(261.48,386.75) scale(1.15) translate(-261.48,-386.75)"><polygon points="261.48,384.03 262.19,386.04 265.00,386.75 262.19,387.46 261.48,389.47 260.78,387.46 257.96,386.75 260.78,386.04" fill="#00ff00" stroke="#00ff00" stroke-width="0.7" stroke-linejoin="round"/></g>
<g transform="translate(272.86,370.76) scale(1.15) translate(-272.86,-370.76)"><polygon points="272.86,368.04 273.57,370.05 276.38,370.76 273.57,371.47 272.86,373.48 272.16,371.47 269.34,370.76 272.16,370.05" fill="#00ff00" stroke="#00ff00" stroke-width="0.7" stroke-linejoin="round"/></g>
<g transform="translate(284.24,354.78) scale(1.15) translate(-284.24,-354.78)"><polygon points="284.24,352.06 284.95,354.07 287.76,354.78 284.95,355.48 284.24,357.50 283.54,355.48 280.72,354.78 283.54,354.07" fill="#00ff00" stroke="#00ff00" stroke-width="0.7" stroke-linejoin="round"/></g>
<g transform="translate(295.63,338.79) scale(1.15) translate(-295.63,-338.79)"><polygon points="295.63,336.07 296.33,338.08 299.15,338.79 296.33,339.50 295.63,341.51 294.92,339.50 292.11,338.79 294.92,338.08" fill="#00ff00" stroke="#00ff00" stroke-width="0.7" stroke-linejoin="round"/></g>
<g transform="translate(307.01,322.80) scale(1.15) translate(-307.01,-322.80)"><polygon points="307.01,320.08 307.71,322.10 310.53,322.80 307.71,323.51 307.01,325.52 306.30,323.51 303.49,322.80 306.30,322.10" fill="#00ff00" stroke="#00ff00" stroke-width="0.7" stroke-linejoin="round"/></g>
<g transform="translate(318.39,306.82) scale(1.15) translate(-318.39,-306.82)"><polygon points="318.39,304.10 319.09,306.11 321.91,306.82 319.09,307.53 318.39,309.54 317.68,307.53 314.87,306.82 317.68,306.11" fill="#00ff00" stroke="#00ff00" stroke-width="0.7" stroke-linejoin="round"/></g>
<g transform="translate(329.77,290.83) scale(1.15) translate(-329.77,-290.83)"><polygon points="329.77,288.11 330.48,290.12 333.29,290.83 330.48,291.54 329.77,293.55 329.06,291.54 326.25,290.83 329.06,290.12" fill="#00ff00" stroke="#00ff00" stroke-width="0.7" stroke-linejoin="round"/></g>
<g transform="translate(341.15,274.85) scale(1.15) translate(-341.15,-274.85)"><polygon points="341.15,272.13 341.86,274.14 344.67,274.85 341.86,275.55 341.15,277.57 340.44,275.55 337.63,274.85 340.44,274.14" fill="#00ff00" stroke="#00ff00" stroke-width="0.7" stroke-linejoin="round"/></g>
<g transform="translate(352.53,258.86) scale(1.15) translate(-352.53,-258.86)"><polygon points="352.53,256.14 353.24,258.15 356.05,258.86 353.24,259.57 352.53,261.58 351.82,259.57 349.01,258.86 351.82,258.15" fill="#00ff00" stroke="#00ff00" stroke-width="0.7" stroke-linejoin="round"/></g>
<polyline points="245.62,418.72 257.69,402.73 269.76,386.75 281.83,370.76 293.90,354.78 305.97,338.79 318.04,322.80 330.11,306.82 342.18,290.83 354.26,274.85 366.33,258.86" fill="none" stroke="#ffff00" stroke-width="1.9" stroke-linejoin="round"/>
<g transform="translate(245.62,418.72) scale(1.15) translate(-245.62,-418.72)"><path d="M242.42,415.52 Q245.62,418.22 247.86,418.72 Q245.62,419.22 242.42,421.92" fill="none" stroke="#ffff00" stroke-width="1.4"/><line x1="242.42" y1="418.72" x2="248.82" y2="418.72" stroke="#ffff00" stroke-width="1.4"/></g>
<g transform="translate(257.69,402.73) scale(1.15) translate(-257.69,-402.73)"><path d="M254.49,399.53 Q257.69,402.23 259.93,402.73 Q257.69,403.23 254.49,405.93" fill="none" stroke="#ffff00" stroke-width="1.4"/><line x1="254.49" y1="402.73" x2="260.89" y2="402.73" stroke="#ffff00" stroke-width="1.4"/></g>
<g transform="translate(269.76,386.75) scale(1.15) translate(-269.76,-386.75)"><path d="M266.56,383.55 Q269.76,386.25 272.00,386.75 Q269.76,387.25 266.56,389.95" fill="none" stroke="#ffff00" stroke-width="1.4"/><line x1="266.56" y1="386.75" x2="272.96" y2="386.75" stroke="#ffff00" stroke-width="1.4"/></g>
<g transform="translate(281.83,370.76) scale(1.15) translate(-281.83,-370.76)"><path d="M278.63,367.56 Q281.83,370.26 284.07,370.76 Q281.83,371.26 278.63,373.96" fill="none" stroke="#ffff00" stroke-width="1.4"/><line x1="278.63" y1="370.76" x2="285.03" y2="370.76" stroke="#ffff00" stroke-width="1.4"/></g>
<g transform="translate(293.90,354.78) scale(1.15) translate(-293.90,-354.78)"><path d="M290.70,351.58 Q293.90,354.28 296.14,354.78 Q293.90,355.28 290.70,357.98" fill="none" stroke="#ffff00" stroke-width="1.4"/><line x1="290.70" y1="354.78" x2="297.10" y2="354.78" stroke="#ffff00" stroke-width="1.4"/></g>
<g transform="translate(305.97,338.79) scale(1.15) translate(-305.97,-338.79)"><path d="M302.77,335.59 Q305.97,338.29 308.21,338.79 Q305.97,339.29 302.77,341.99" fill="none" stroke="#ffff00" stroke-width="1.4"/><line x1="302.77" y1="338.79" x2="309.17" y2="338.79" stroke="#ffff00" stroke-width="1.4"/></g>
<g transform="translate(318.04,322.80) scale(1.15) translate(-318.04,-322.80)"><path d="M314.84,319.60 Q318.04,322.30 320.28,322.80 Q318.04,323.30 314.84,326.00" fill="none" stroke="#ffff00" stroke-width="1.4"/><line x1="314.84" y1="322.80" x2="321.24" y2="322.80" stroke="#ffff00" stroke-width="1.4"/></g>
<g transform="translate(330.11,306.82) scale(1.15) translate(-330.11,-306.82)"><path d="M326.91,303.62 Q330.11,306.32 332.35,306.82 Q330.11,307.32 326.91,310.02" fill="none" stroke="#ffff00" stroke-width="1.4"/><line x1="326.91" y1="306.82" x2="333.31" y2="306.82" stroke="#ffff00" stroke-width="1.4"/></g>
<g transform="translate(342.18,290.83) scale(1.15) translate(-342.18,-290.83)"><path d="M338.98,287.63 Q342.18,290.33 344.42,290.83 Q342.18,291.33 338.98,294.03" fill="none" stroke="#ffff00" stroke-width="1.4"/><line x1="338.98" y1="290.83" x2="345.38" y2="290.83" stroke="#ffff00" stroke-width="1.4"/></g>
<g transform="translate(354.26,274.85) scale(1.15) translate(-354.26,-274.85)"><path d="M351.06,271.65 Q354.26,274.35 356.50,274.85 Q354.26,275.35 351.06,278.05" fill="none" stroke="#ffff00" stroke-width="1.4"/><line x1="351.06" y1="274.85" x2="357.46" y2="274.85" stroke="#ffff00" stroke-width="1.4"/></g>
<g transform="translate(366.33,258.86) scale(1.15) translate(-366.33,-258.86)"><path d="M363.13,255.66 Q366.33,258.36 368.57,258.86 Q366.33,259.36 363.13,262.06" fill="none" stroke="#ffff00" stroke-width="1.4"/><line x1="363.13" y1="258.86" x2="369.53" y2="258.86" stroke="#ffff00" stroke-width="1.4"/></g>
<polyline points="423.81,418.72 413.84,402.73 403.88,386.75 393.92,370.76 383.95,354.78 373.99,338.79 364.03,322.80 354.06,306.82 344.10,290.83 334.14,274.85 324.17,258.86" fill="none" stroke="#ff8080" stroke-width="1.9" stroke-linejoin="round"/>
<g transform="translate(423.81,418.72) scale(1.15) translate(-423.81,-418.72)"><path d="M421.61,422.02 L421.61,416.32 L425.01,416.32 C427.41,416.32 427.41,419.92 425.01,419.92 L421.61,419.92 Z" fill="#ff8080" stroke="#ff8080" stroke-width="0.9" stroke-linejoin="round"/></g>
<g transform="translate(413.84,402.73) scale(1.15) translate(-413.84,-402.73)"><path d="M411.64,406.03 L411.64,400.33 L415.04,400.33 C417.44,400.33 417.44,403.93 415.04,403.93 L411.64,403.93 Z" fill="#ff8080" stroke="#ff8080" stroke-width="0.9" stroke-linejoin="round"/></g>
<g transform="translate(403.88,386.75) scale(1.15) translate(-403.88,-386.75)"><path d="M401.68,390.05 L401.68,384.35 L405.08,384.35 C407.48,384.35 407.48,387.95 405.08,387.95 L401.68,387.95 Z" fill="#ff8080" stroke="#ff8080" stroke-width="0.9" stroke-linejoin="round"/></g>
<g transform="translate(393.92,370.76) scale(1.15) translate(-393.92,-370.76)"><path d="M391.72,374.06 L391.72,368.36 L395.12,368.36 C397.52,368.36 397.52,371.96 395.12,371.96 L391.72,371.96 Z" fill="#ff8080" stroke="#ff8080" stroke-width="0.9" stroke-linejoin="round"/></g>
<g transform="translate(383.95,354.78) scale(1.15) translate(-383.95,-354.78)"><path d="M381.75,358.08 L381.75,352.38 L385.15,352.38 C387.55,352.38 387.55,355.98 385.15,355.98 L381.75,355.98 Z" fill="#ff8080" stroke="#ff8080" stroke-width="0.9" stroke-linejoin="round"/></g>
<g transform="translate(373.99,338.79) scale(1.15) translate(-373.99,-338.79)"><path d="M371.79,342.09 L371.79,336.39 L375.19,336.39 C377.59,336.39 377.59,339.99 375.19,339.99 L371.79,339.99 Z" fill="#ff8080" stroke="#ff8080" stroke-width="0.9" stroke-linejoin="round"/></g>
<g transform="translate(364.03,322.80) scale(1.15) translate(-364.03,-322.80)"><path d="M361.83,326.10 L361.83,320.40 L365.23,320.40 C367.63,320.40 367.63,324.00 365.23,324.00 L361.83,324.00 Z" fill="#ff8080" stroke="#ff8080" stroke-width="0.9" stroke-linejoin="round"/></g>
<g transform="translate(354.06,306.82) scale(1.15) translate(-354.06,-306.82)"><path d="M351.86,310.12 L351.86,304.42 L355.26,304.42 C357.66,304.42 357.66,308.02 355.26,308.02 L351.86,308.02 Z" fill="#ff8080" stroke="#ff8080" stroke-width="0.9" stroke-linejoin="round"/></g>
<g transform="translate(344.10,290.83) scale(1.15) translate(-344.10,-290.83)"><path d="M341.90,294.13 L341.90,288.43 L345.30,288.43 C347.70,288.43 347.70,292.03 345.30,292.03 L341.90,292.03 Z" fill="#ff8080" stroke="#ff8080" stroke-width="0.9" stroke-linejoin="round"/></g>
<g transform="translate(334.14,274.85) scale(1.15) translate(-334.14,-274.85)"><path d="M331.94,278.15 L331.94,272.45 L335.34,272.45 C337.74,272.45 337.74,276.05 335.34,276.05 L331.94,276.05 Z" fill="#ff8080" stroke="#ff8080" stroke-width="0.9" stroke-linejoin="round"/></g>
<g transform="translate(324.17,258.86) scale(1.15) translate(-324.17,-258.86)"><path d="M321.97,262.16 L321.97,256.46 L325.37,256.46 C327.77,256.46 327.77,260.06 325.37,260.06 L321.97,260.06 Z" fill="#ff8080" stroke="#ff8080" stroke-width="0.9" stroke-linejoin="round"/></g>
<polyline points="441.05,418.72 430.51,402.73 419.97,386.75 409.44,370.76 398.90,354.78 388.36,338.79 377.82,322.80 367.28,306.82 356.75,290.83 346.21,274.85 335.67,258.86" fill="none" stroke="#800080" stroke-width="1.9" stroke-linejoin="round"/>
<g transform="translate(441.05,418.72) scale(1.15) translate(-441.05,-418.72)"><rect x="438.75" y="417.52" width="4.20" height="4.20" fill="none" stroke="#800080" stroke-width="0.9" stroke-opacity="0.85"/></g>
<g transform="translate(430.51,402.73) scale(1.15) translate(-430.51,-402.73)"><rect x="428.21" y="401.53" width="4.20" height="4.20" fill="none" stroke="#800080" stroke-width="0.9" stroke-opacity="0.85"/></g>
<g transform="translate(419.97,386.75) scale(1.15) translate(-419.97,-386.75)"><rect x="417.67" y="385.55" width="4.20" height="4.20" fill="none" stroke="#800080" stroke-width="0.9" stroke-opacity="0.85"/></g>
<g transform="translate(409.44,370.76) scale(1.15) translate(-409.44,-370.76)"><rect x="407.14" y="369.56" width="4.20" height="4.20" fill="none" stroke="#800080" stroke-width="0.9" stroke-opacity="0.85"/></g>
<g transform="translate(398.90,354.78) scale(1.15) translate(-398.90,-354.78)"><rect x="396.60" y="353.58" width="4.20" height="4.20" fill="none" stroke="#800080" stroke-width="0.9" stroke-opacity="0.85"/></g>
<g transform="translate(388.36,338.79) scale(1.15) translate(-388.36,-338.79)"><rect x="386.06" y="337.59" width="4.20" height="4.20" fill="none" stroke="#800080" stroke-width="0.9" stroke-opacity="0.85"/></g>
<g transform="translate(377.82,322.80) scale(1.15) translate(-377.82,-322.80)"><rect x="375.52" y="321.60" width="4.20" height="4.20" fill="none" stroke="#800080" stroke-width="0.9" stroke-opacity="0.85"/></g>
<g transform="translate(367.28,306.82) scale(1.15) translate(-367.28,-306.82)"><rect x="364.98" y="305.62" width="4.20" height="4.20" fill="none" stroke="#800080" stroke-width="0.9" stroke-opacity="0.85"/></g>
<g transform="translate(356.75,290.83) scale(1.15) translate(-356.75,-290.83)"><rect x="354.45" y="289.63" width="4.20" height="4.20" fill="none" stroke="#800080" stroke-width="0.9" stroke-opacity="0.85"/></g>
<g transform="translate(346.21,274.85) scale(1.15) translate(-346.21,-274.85)"><rect x="343.91" y="273.65" width="4.20" height="4.20" fill="none" stroke="#800080" stroke-width="0.9" stroke-opacity="0.85"/></g>
<g transform="translate(335.67,258.86) scale(1.15) translate(-335.67,-258.86)"><rect x="333.37" y="257.66" width="4.20" height="4.20" fill="none" stroke="#800080" stroke-width="0.9" stroke-opacity="0.85"/></g>
<polyline points="466.34,418.72 454.96,402.73 443.58,386.75 432.20,370.76 420.82,354.78 409.44,338.79 398.05,322.80 386.67,306.82 375.29,290.83 363.91,274.85 352.53,258.86" fill="none" stroke="#00ffff" stroke-width="1.9" stroke-linejoin="round"/>
<g transform="translate(466.34,418.72) scale(1.15) translate(-466.34,-418.72)"><polygon points="466.34,416.72 468.34,418.72 466.34,420.72 464.34,418.72" fill="#00ffff"/></g>
<g transform="translate(454.96,402.73) scale(1.15) translate(-454.96,-402.73)"><polygon points="454.96,400.73 456.96,402.73 454.96,404.73 452.96,402.73" fill="#00ffff"/></g>
<g transform="translate(443.58,386.75) scale(1.15) translate(-443.58,-386.75)"><polygon points="443.58,384.75 445.58,386.75 443.58,388.75 441.58,386.75" fill="#00ffff"/></g>
<g transform="translate(432.20,370.76) scale(1.15) translate(-432.20,-370.76)"><polygon points="432.20,368.76 434.20,370.76 432.20,372.76 430.20,370.76" fill="#00ffff"/></g>
<g transform="translate(420.82,354.78) scale(1.15) translate(-420.82,-354.78)"><polygon points="420.82,352.78 422.82,354.78 420.82,356.78 418.82,354.78" fill="#00ffff"/></g>
<g transform="translate(409.44,338.79) scale(1.15) translate(-409.44,-338.79)"><polygon points="409.44,336.79 411.44,338.79 409.44,340.79 407.44,338.79" fill="#00ffff"/></g>
<g transform="translate(398.05,322.80) scale(1.15) translate(-398.05,-322.80)"><polygon points="398.05,320.80 400.05,322.80 398.05,324.80 396.05,322.80" fill="#00ffff"/></g>
<g transform="translate(386.67,306.82) scale(1.15) translate(-386.67,-306.82)"><polygon points="386.67,304.82 388.67,306.82 386.67,308.82 384.67,306.82" fill="#00ffff"/></g>
<g transform="translate(375.29,290.83) scale(1.15) translate(-375.29,-290.83)"><polygon points="375.29,288.83 377.29,290.83 375.29,292.83 373.29,290.83" fill="#00ffff"/></g>
<g transform="translate(363.91,274.85) scale(1.15) translate(-363.91,-274.85)"><polygon points="363.91,272.85 365.91,274.85 363.91,276.85 361.91,274.85" fill="#00ffff"/></g>
<g transform="translate(352.53,258.86) scale(1.15) translate(-352.53,-258.86)"><polygon points="352.53,256.86 354.53,258.86 352.53,260.86 350.53,258.86" fill="#00ffff"/></g>
<polyline points="487.03,418.72 474.96,402.73 462.89,386.75 450.82,370.76 438.75,354.78 426.68,338.79 414.61,322.80 402.54,306.82 390.47,290.83 378.40,274.85 366.33,258.86" fill="none" stroke="#ff00ff" stroke-width="1.9" stroke-linejoin="round"/>
<g transform="translate(487.03,418.72) scale(1.15) translate(-487.03,-418.72)"><polygon points="486.13,418.92 487.93,422.16 484.33,422.16" fill="none" stroke="#ff00ff" stroke-width="0.9" stroke-opacity="0.8"/></g>
<g transform="translate(474.96,402.73) scale(1.15) translate(-474.96,-402.73)"><polygon points="474.06,402.93 475.86,406.17 472.26,406.17" fill="none" stroke="#ff00ff" stroke-width="0.9" stroke-opacity="0.8"/></g>
<g transform="translate(462.89,386.75) scale(1.15) translate(-462.89,-386.75)"><polygon points="461.99,386.95 463.79,390.19 460.19,390.19" fill="none" stroke="#ff00ff" stroke-width="0.9" stroke-opacity="0.8"/></g>
<g transform="translate(450.82,370.76) scale(1.15) translate(-450.82,-370.76)"><polygon points="449.92,370.96 451.72,374.20 448.12,374.20" fill="none" stroke="#ff00ff" stroke-width="0.9" stroke-opacity="0.8"/></g>
<g transform="translate(438.75,354.78) scale(1.15) translate(-438.75,-354.78)"><polygon points="437.85,354.98 439.65,358.22 436.05,358.22" fill="none" stroke="#ff00ff" stroke-width="0.9" stroke-opacity="0.8"/></g>
<g transform="translate(426.68,338.79) scale(1.15) translate(-426.68,-338.79)"><polygon points="425.78,338.99 427.58,342.23 423.98,342.23" fill="none" stroke="#ff00ff" stroke-width="0.9" stroke-opacity="0.8"/></g>
<g transform="translate(414.61,322.80) scale(1.15) translate(-414.61,-322.80)"><polygon points="413.71,323.00 415.51,326.24 411.91,326.24" fill="none" stroke="#ff00ff" stroke-width="0.9" stroke-opacity="0.8"/></g>
<g transform="translate(402.54,306.82) scale(1.15) translate(-402.54,-306.82)"><polygon points="401.64,307.02 403.44,310.26 399.84,310.26" fill="none" stroke="#ff00ff" stroke-width="0.9" stroke-opacity="0.8"/></g>
<g transform="translate(390.47,290.83) scale(1.15) translate(-390.47,-290.83)"><polygon points="389.57,291.03 391.37,294.27 387.77,294.27" fill="none" stroke="#ff00ff" stroke-width="0.9" stroke-opacity="0.8"/></g>
<g transform="translate(378.40,274.85) scale(1.15) translate(-378.40,-274.85)"><polygon points="377.50,275.05 379.30,278.29 375.70,278.29" fill="none" stroke="#ff00ff" stroke-width="0.9" stroke-opacity="0.8"/></g>
<g transform="translate(366.33,258.86) scale(1.15) translate(-366.33,-258.86)"><polygon points="365.43,259.06 367.23,262.30 363.63,262.30" fill="none" stroke="#ff00ff" stroke-width="0.9" stroke-opacity="0.8"/></g>
<rect x="457.8" y="255.3" width="34.80000000000001" height="90.30000000000001" fill="#fff" stroke="#777" stroke-width="1"/>
<line x1="458.30" y1="262.60" x2="466.30" y2="262.60" stroke="#ff0000" stroke-width="1.5"/>
<polygon points="462.30,259.20 463.65,260.74 465.53,261.55 464.49,263.31 464.30,265.35 462.30,264.90 460.30,265.35 460.11,263.31 459.07,261.55 460.95,260.74" fill="#ff0000" stroke="#ff0000" stroke-width="1.3" stroke-linejoin="round"/><circle cx="462.30" cy="262.60" r="0.6" fill="#fff" fill-opacity="0.8"/>
<text transform="translate(467.4,264.70) scale(0.97,1)" font-family="Liberation Sans, Arial, sans-serif" font-style="italic" font-size="8.4" fill="#000" stroke="#000" stroke-width="0.15">t=0</text>
<line x1="458.30" y1="273.74" x2="466.30" y2="273.74" stroke="#0000ff" stroke-width="1.5"/>
<path d="M464.55,271.87 C464.68,269.49 461.68,269.24 461.68,271.87 C461.68,273.99 461.05,275.24 459.80,276.12 L465.55,276.37 M459.55,273.62 L463.30,273.62" fill="none" stroke="#0000ff" stroke-width="1.2" stroke-linecap="round" stroke-linejoin="round"/>
<text transform="translate(467.4,275.84) scale(0.97,1)" font-family="Liberation Sans, Arial, sans-serif" font-style="italic" font-size="8.4" fill="#000" stroke="#000" stroke-width="0.15">t=0.2</text>
<line x1="458.30" y1="284.88" x2="466.30" y2="284.88" stroke="#00ff00" stroke-width="1.5"/>
<polygon points="462.30,282.16 463.01,284.17 465.82,284.88 463.01,285.59 462.30,287.60 461.59,285.59 458.78,284.88 461.59,284.17" fill="#00ff00" stroke="#00ff00" stroke-width="0.7" stroke-linejoin="round"/>
<text transform="translate(467.4,286.98) scale(0.97,1)" font-family="Liberation Sans, Arial, sans-serif" font-style="italic" font-size="8.4" fill="#000" stroke="#000" stroke-width="0.15">t=0.4</text>
<line x1="458.30" y1="296.02" x2="466.30" y2="296.02" stroke="#ffff00" stroke-width="1.5"/>
<path d="M459.10,292.82 Q462.30,295.52 464.54,296.02 Q462.30,296.52 459.10,299.22" fill="none" stroke="#ffff00" stroke-width="1.4"/><line x1="459.10" y1="296.02" x2="465.50" y2="296.02" stroke="#ffff00" stroke-width="1.4"/>
<text transform="translate(467.4,298.12) scale(0.97,1)" font-family="Liberation Sans, Arial, sans-serif" font-style="italic" font-size="8.4" fill="#000" stroke="#000" stroke-width="0.15">t=0.6</text>
<line x1="458.30" y1="307.16" x2="466.30" y2="307.16" stroke="#ff8080" stroke-width="1.5"/>
<path d="M460.10,310.46 L460.10,304.76 L463.50,304.76 C465.90,304.76 465.90,308.36 463.50,308.36 L460.10,308.36 Z" fill="#ff8080" stroke="#ff8080" stroke-width="0.9" stroke-linejoin="round"/>
<text transform="translate(467.4,309.26) scale(0.97,1)" font-family="Liberation Sans, Arial, sans-serif" font-style="italic" font-size="8.4" fill="#000" stroke="#000" stroke-width="0.15">t=0.8</text>
<line x1="458.30" y1="318.30" x2="466.30" y2="318.30" stroke="#800080" stroke-width="1.5"/>
<rect x="460.00" y="317.10" width="4.20" height="4.20" fill="none" stroke="#800080" stroke-width="0.9" stroke-opacity="0.85"/>
<text transform="translate(467.4,320.40) scale(0.97,1)" font-family="Liberation Sans, Arial, sans-serif" font-style="italic" font-size="8.4" fill="#000" stroke="#000" stroke-width="0.15">t=0</text>
<line x1="458.30" y1="329.44" x2="466.30" y2="329.44" stroke="#00ffff" stroke-width="1.5"/>
<polygon points="462.30,327.44 464.30,329.44 462.30,331.44 460.30,329.44" fill="#00ffff"/>
<text transform="translate(467.4,331.54) scale(0.97,1)" font-family="Liberation Sans, Arial, sans-serif" font-style="italic" font-size="8.4" fill="#000" stroke="#000" stroke-width="0.15">t=0.2</text>
<line x1="458.30" y1="340.58" x2="466.30" y2="340.58" stroke="#ff00ff" stroke-width="1.5"/>
<polygon points="461.40,340.78 463.20,344.02 459.60,344.02" fill="none" stroke="#ff00ff" stroke-width="0.9" stroke-opacity="0.8"/>
<text transform="translate(467.4,342.68) scale(0.97,1)" font-family="Liberation Sans, Arial, sans-serif" font-style="italic" font-size="8.4" fill="#000" stroke="#000" stroke-width="0.15">t=0.4</text>
<text transform="translate(189.8,336.3) rotate(-90)" font-family="Liberation Sans, Arial, sans-serif" font-weight="bold" font-size="10" fill="#000" stroke="#000" stroke-width="0.25" text-anchor="middle">k–cut</text>
<text transform="translate(158.0,209) scale(0.9,1)" font-family="Liberation Sans, Arial, sans-serif" fill="#666" font-size="15.5"><tspan font-style="italic" stroke="#666" stroke-width="0.45">C</tspan><tspan font-weight="bold">(x,t)</tspan></text>
<line x1="158" y1="213.5" x2="194" y2="213.5" stroke="#666" stroke-width="1.1"/>
<text transform="translate(522.0,213.0) scale(0.9,1)" font-family="Liberation Sans, Arial, sans-serif" fill="#666" font-size="15.5"><tspan font-style="italic" stroke="#666" stroke-width="0.45">C</tspan><tspan font-weight="bold">(x,t)</tspan></text>
<line x1="522" y1="201.2" x2="558" y2="201.2" stroke="#666" stroke-width="1.1"/>
<text transform="translate(336.6,463) scale(0.84,1)" font-family="Liberation Serif, serif" font-style="italic" font-size="17.6" fill="#666" stroke="#666" stroke-width="0.5">C</text>
<path d="M339.2,447.6 Q340.5,446 342,447 Q343.3,447.9 344.4,446.3" fill="none" stroke="#666" stroke-width="0.8"/>
<text x="347.6" y="463.2" font-family="Liberation Sans, Arial, sans-serif" fill="#666" font-weight="bold" font-size="11.6" letter-spacing="0.1" stroke="#666" stroke-width="0.3">(x,t)</text>
<text x="170.4" y="243.7" font-family="Liberation Serif, serif" font-size="15" fill="#000" stroke="#000" stroke-width="0.15" text-anchor="middle">(a)</text>
<text x="533.8" y="243.7" font-family="Liberation Serif, serif" font-size="15" fill="#000" stroke="#000" stroke-width="0.15" text-anchor="middle">(b)</text>
<text x="352.2" y="492.5" font-family="Liberation Serif, serif" font-size="15" fill="#000" stroke="#000" stroke-width="0.15" text-anchor="middle">(c)</text>
</svg>
</body></html>
